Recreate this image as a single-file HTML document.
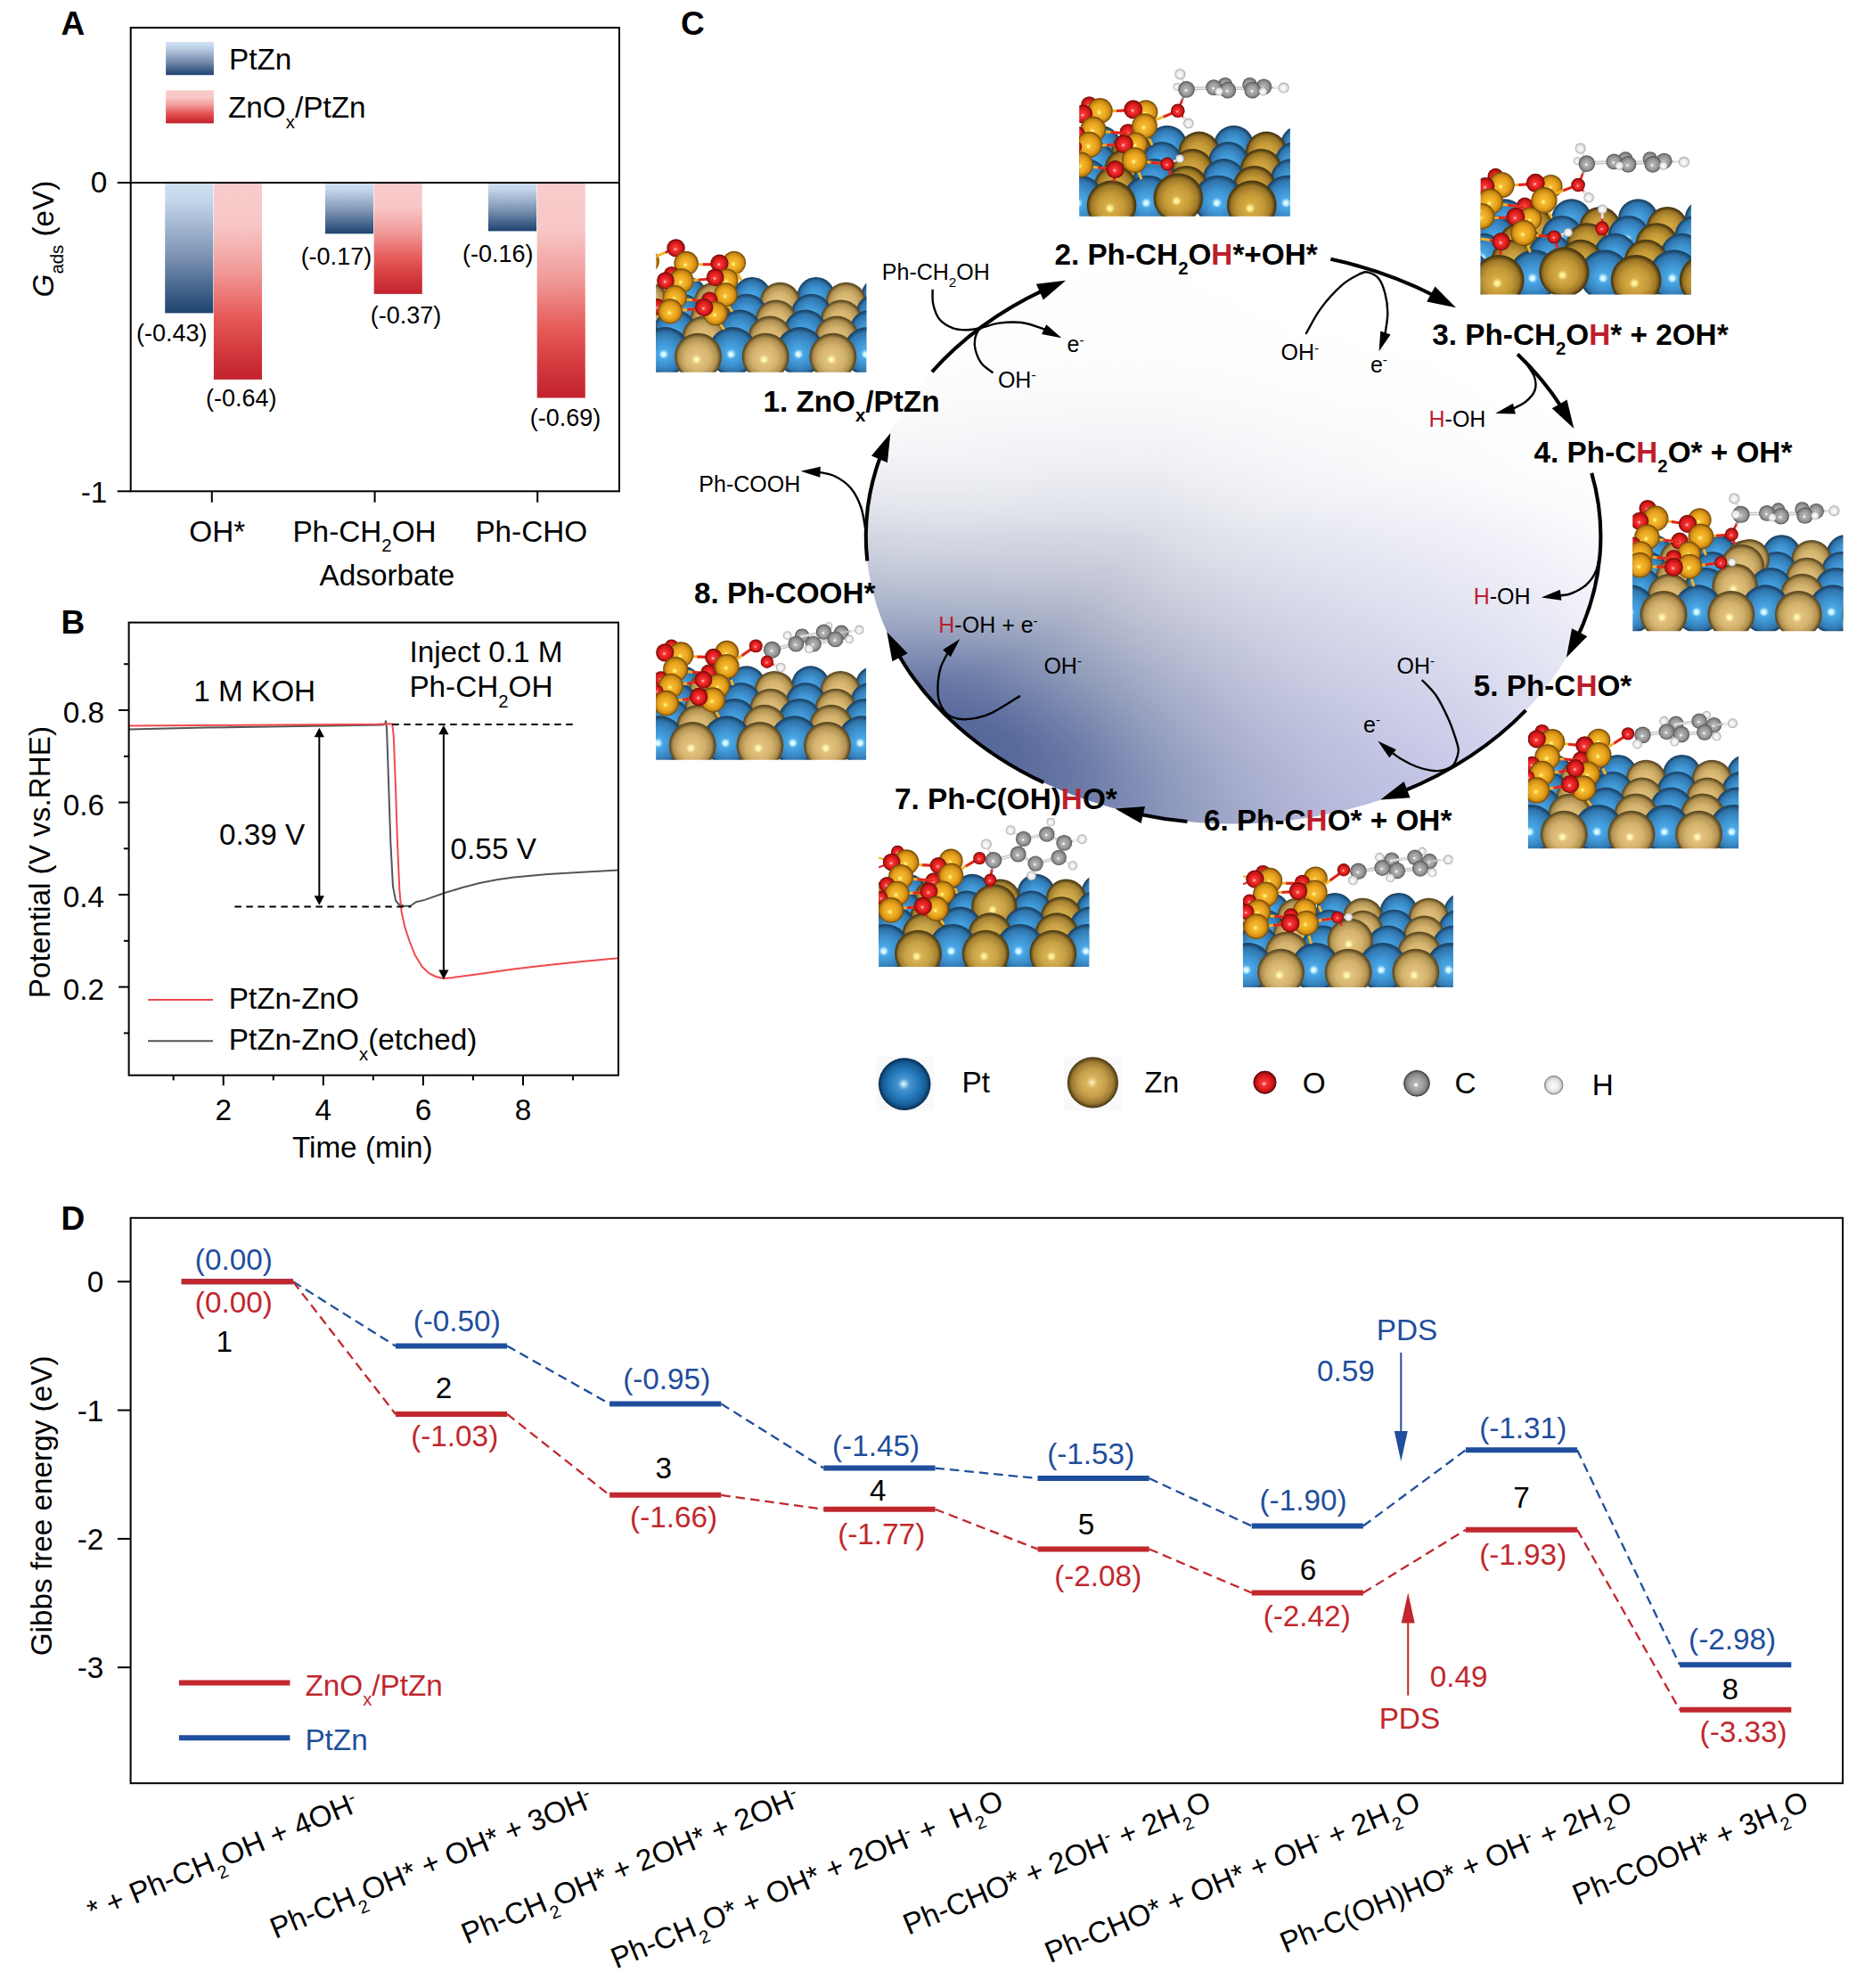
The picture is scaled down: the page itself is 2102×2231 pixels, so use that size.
<!DOCTYPE html>
<html lang="en"><head><meta charset="utf-8"><title>Figure</title>
<style>
html,body{margin:0;padding:0;background:#fff;}
body{width:2102px;height:2231px;overflow:hidden;}
svg{display:block;font-family:"Liberation Sans", sans-serif;}
</style></head><body>
<svg width="2102" height="2231" viewBox="0 0 2102 2231">
<defs>
<linearGradient id="gBlue" x1="0" y1="0" x2="0" y2="1">
<stop offset="0" stop-color="#cfe0f2"/><stop offset="0.12" stop-color="#c6d8ec"/>
<stop offset="0.55" stop-color="#7f95b5"/><stop offset="1" stop-color="#1d436f"/></linearGradient>
<linearGradient id="gRed" x1="0" y1="0" x2="0" y2="1">
<stop offset="0" stop-color="#f9cccc"/><stop offset="0.22" stop-color="#f8c6c6"/>
<stop offset="0.45" stop-color="#f09a98"/><stop offset="0.68" stop-color="#e65a58"/>
<stop offset="0.85" stop-color="#d33a3e"/><stop offset="1" stop-color="#c2222e"/></linearGradient>
<clipPath id="clipB"><rect x="144.6" y="698.6" width="549.4" height="508.1"/></clipPath>
<radialGradient id="gEll1" gradientUnits="userSpaceOnUse" cx="0" cy="0" r="3.0" gradientTransform="translate(1098 833) rotate(25) scale(480 215)">
<stop offset="0.0000" stop-color="#56699b"/><stop offset="0.0333" stop-color="#586a9c"/><stop offset="0.0667" stop-color="#6373a2"/><stop offset="0.1000" stop-color="#6f7ea9"/><stop offset="0.1333" stop-color="#7c89b0"/><stop offset="0.1833" stop-color="#8f9bb9"/><stop offset="0.2333" stop-color="#a1aac3"/><stop offset="0.2833" stop-color="#b1b7cc"/><stop offset="0.3333" stop-color="#bfc3d4"/><stop offset="0.4000" stop-color="#ced2de"/><stop offset="0.4667" stop-color="#dbdde7"/><stop offset="0.5667" stop-color="#e8eaf0"/><stop offset="0.6667" stop-color="#f1f2f6"/><stop offset="0.8000" stop-color="#f8f9fb"/><stop offset="1.0000" stop-color="#ffffff"/></radialGradient>
<radialGradient id="gEll4" gradientUnits="userSpaceOnUse" cx="1590" cy="910" r="380">
<stop offset="0" stop-color="#b0b0ea" stop-opacity="0.5"/><stop offset="0.5" stop-color="#b3b3ea" stop-opacity="0.25"/><stop offset="1" stop-color="#b3b3ea" stop-opacity="0"/></radialGradient>
<linearGradient id="gEll5" gradientUnits="userSpaceOnUse" x1="0" y1="380" x2="0" y2="600">
<stop offset="0" stop-color="#fff" stop-opacity="0.85"/><stop offset="0.5" stop-color="#fff" stop-opacity="0.35"/><stop offset="1" stop-color="#fff" stop-opacity="0"/></linearGradient>
<radialGradient id="gEll3" gradientUnits="userSpaceOnUse" cx="990" cy="440" r="330">
<stop offset="0" stop-color="#fff" stop-opacity="0.8"/><stop offset="0.55" stop-color="#fff" stop-opacity="0.4"/><stop offset="1" stop-color="#fff" stop-opacity="0"/></radialGradient>
<radialGradient id="sPt" cx="0.5" cy="0.5" r="0.5" fx="0.46" fy="0.57">
<stop offset="0" stop-color="#d9fbff"/><stop offset="0.07" stop-color="#d9fbff"/><stop offset="0.2" stop-color="#4aa7e6"/>
<stop offset="0.55" stop-color="#3b8ecb"/><stop offset="0.82" stop-color="#2f74ab"/><stop offset="0.96" stop-color="#1b4468"/>
<stop offset="1" stop-color="#1b4468"/></radialGradient>
<radialGradient id="sZn" cx="0.5" cy="0.5" r="0.5" fx="0.46" fy="0.57">
<stop offset="0" stop-color="#fff7b5"/><stop offset="0.07" stop-color="#fff7b5"/><stop offset="0.2" stop-color="#e2c27c"/>
<stop offset="0.55" stop-color="#d3b26d"/><stop offset="0.82" stop-color="#b0904f"/><stop offset="0.96" stop-color="#5d4a22"/>
<stop offset="1" stop-color="#5d4a22"/></radialGradient>
<radialGradient id="sZd" cx="0.5" cy="0.5" r="0.5" fx="0.46" fy="0.57">
<stop offset="0" stop-color="#fff39a"/><stop offset="0.07" stop-color="#fff39a"/><stop offset="0.2" stop-color="#d6ac45"/>
<stop offset="0.55" stop-color="#c29736"/><stop offset="0.82" stop-color="#9c7626"/><stop offset="0.96" stop-color="#4a3810"/>
<stop offset="1" stop-color="#4a3810"/></radialGradient>
<radialGradient id="sZm" cx="0.5" cy="0.5" r="0.5" fx="0.46" fy="0.57">
<stop offset="0" stop-color="#fff29a"/><stop offset="0.07" stop-color="#fff29a"/><stop offset="0.2" stop-color="#d8b255"/>
<stop offset="0.55" stop-color="#c6a044"/><stop offset="0.82" stop-color="#a38032"/><stop offset="0.96" stop-color="#503e14"/>
<stop offset="1" stop-color="#503e14"/></radialGradient>
<radialGradient id="sZc" cx="0.5" cy="0.5" r="0.5" fx="0.46" fy="0.57">
<stop offset="0" stop-color="#fff07a"/><stop offset="0.07" stop-color="#fff07a"/><stop offset="0.2" stop-color="#f5b92f"/>
<stop offset="0.55" stop-color="#e9a61f"/><stop offset="0.82" stop-color="#c98612"/><stop offset="0.96" stop-color="#7a4f08"/>
<stop offset="1" stop-color="#7a4f08"/></radialGradient>
<radialGradient id="sO" cx="0.5" cy="0.5" r="0.5" fx="0.46" fy="0.57">
<stop offset="0" stop-color="#ffb0b0"/><stop offset="0.07" stop-color="#ffb0b0"/><stop offset="0.2" stop-color="#f53a3a"/>
<stop offset="0.55" stop-color="#e41f1f"/><stop offset="0.82" stop-color="#b81212"/><stop offset="0.96" stop-color="#6e0808"/>
<stop offset="1" stop-color="#6e0808"/></radialGradient>
<radialGradient id="sC" cx="0.5" cy="0.5" r="0.5" fx="0.46" fy="0.57">
<stop offset="0" stop-color="#f6f6f6"/><stop offset="0.07" stop-color="#f6f6f6"/><stop offset="0.2" stop-color="#b4b4b4"/>
<stop offset="0.55" stop-color="#9e9e9e"/><stop offset="0.82" stop-color="#828282"/><stop offset="0.96" stop-color="#545454"/>
<stop offset="1" stop-color="#545454"/></radialGradient>
<radialGradient id="sH" cx="0.5" cy="0.5" r="0.5" fx="0.46" fy="0.57">
<stop offset="0" stop-color="#ffffff"/><stop offset="0.07" stop-color="#ffffff"/><stop offset="0.2" stop-color="#f6f6f6"/>
<stop offset="0.55" stop-color="#ececec"/><stop offset="0.82" stop-color="#d2d2d2"/><stop offset="0.96" stop-color="#9a9a9a"/>
<stop offset="1" stop-color="#9a9a9a"/></radialGradient>
<clipPath id="mclip1"><rect x="108" y="-28" width="1580" height="1150"/></clipPath>
<clipPath id="mclip2"><rect x="75" y="72" width="1583" height="1150"/></clipPath>
<clipPath id="mclip3"><rect x="78" y="57" width="1580" height="1150"/></clipPath>
<clipPath id="mclip4"><rect x="82" y="-25" width="1580" height="1150"/></clipPath>
<clipPath id="mclip5"><rect x="100" y="2" width="1580" height="1150"/></clipPath>
<clipPath id="mclip6"><rect x="100" y="7" width="1578" height="1150"/></clipPath>
<clipPath id="mclip7"><rect x="108" y="20" width="1580" height="1150"/></clipPath>
<clipPath id="mclip8"><rect x="108" y="5" width="1578" height="1150"/></clipPath>
<radialGradient id="lPt" cx="0.5" cy="0.5" r="0.5" fx="0.48" fy="0.5">
<stop offset="0" stop-color="#eafaff"/><stop offset="0.07" stop-color="#b5dcf3"/><stop offset="0.22" stop-color="#4795d0"/><stop offset="0.55" stop-color="#2579ba"/>
<stop offset="0.82" stop-color="#175d97"/><stop offset="0.95" stop-color="#0c3a66"/><stop offset="1" stop-color="#072a4c"/></radialGradient>
<radialGradient id="lZn" cx="0.5" cy="0.5" r="0.5" fx="0.48" fy="0.5">
<stop offset="0" stop-color="#fffbe0"/><stop offset="0.07" stop-color="#f4dc9a"/><stop offset="0.22" stop-color="#d9b45f"/><stop offset="0.55" stop-color="#c59e4a"/>
<stop offset="0.82" stop-color="#9c7a33"/><stop offset="0.95" stop-color="#5e4718"/><stop offset="1" stop-color="#3f2e0c"/></radialGradient>
</defs>
<rect x="0" y="0" width="2102" height="2231" fill="#fff"/>
<text x="68.50" y="39.20" font-size="37" font-weight="bold" xml:space="preserve">A</text>
<rect x="186.10" y="47.10" width="53.80" height="37.10" fill="url(#gBlue)"/>
<rect x="186.10" y="101.30" width="53.80" height="37.10" fill="url(#gRed)"/>
<text x="257.00" y="77.80" font-size="33.3" xml:space="preserve">PtZn</text>
<text x="256.00" y="132.20" font-size="33.3" xml:space="preserve">ZnO<tspan dy="11.32" font-size="20.31">x</tspan><tspan dy="-11.32">/PtZn</tspan></text>
<rect x="185.20" y="204.90" width="54.10" height="146.50" fill="url(#gBlue)"/>
<rect x="239.90" y="204.90" width="54.10" height="221.00" fill="url(#gRed)"/>
<rect x="365.00" y="204.90" width="54.10" height="57.40" fill="url(#gBlue)"/>
<rect x="419.70" y="204.90" width="54.10" height="125.00" fill="url(#gRed)"/>
<rect x="548.00" y="204.90" width="54.10" height="54.50" fill="url(#gBlue)"/>
<rect x="602.70" y="204.90" width="54.10" height="241.60" fill="url(#gRed)"/>
<text x="192.80" y="382.50" font-size="27" text-anchor="middle" xml:space="preserve">(-0.43)</text>
<text x="270.70" y="455.60" font-size="27" text-anchor="middle" xml:space="preserve">(-0.64)</text>
<text x="377.40" y="297.20" font-size="27" text-anchor="middle" xml:space="preserve">(-0.17)</text>
<text x="455.60" y="363.30" font-size="27" text-anchor="middle" xml:space="preserve">(-0.37)</text>
<text x="558.80" y="294.10" font-size="27" text-anchor="middle" xml:space="preserve">(-0.16)</text>
<text x="634.60" y="477.90" font-size="27" text-anchor="middle" xml:space="preserve">(-0.69)</text>
<rect x="146.70" y="31.10" width="548.30" height="520.20" fill="none" stroke="#000" stroke-width="2"/>
<line x1="131.70" y1="204.90" x2="695.00" y2="204.90" stroke="#000" stroke-width="2"/>
<line x1="131.70" y1="551.30" x2="146.70" y2="551.30" stroke="#000" stroke-width="2"/>
<line x1="237.80" y1="551.30" x2="237.80" y2="563.80" stroke="#000" stroke-width="2"/>
<line x1="420.60" y1="551.30" x2="420.60" y2="563.80" stroke="#000" stroke-width="2"/>
<line x1="603.20" y1="551.30" x2="603.20" y2="563.80" stroke="#000" stroke-width="2"/>
<text x="120.30" y="215.80" font-size="33.3" text-anchor="end" xml:space="preserve">0</text>
<text x="120.30" y="563.90" font-size="33.3" text-anchor="end" xml:space="preserve">-1</text>
<text x="243.70" y="607.50" font-size="33.3" text-anchor="middle" xml:space="preserve">OH*</text>
<text x="409.00" y="607.50" font-size="33.3" text-anchor="middle" xml:space="preserve">Ph-CH<tspan dy="11.32" font-size="20.31">2</tspan><tspan dy="-11.32">OH</tspan></text>
<text x="596.30" y="607.50" font-size="33.3" text-anchor="middle" xml:space="preserve">Ph-CHO</text>
<text x="434.40" y="656.70" font-size="33.3" text-anchor="middle" xml:space="preserve">Adsorbate</text>
<text x="59.60" y="268.00" font-size="33.3" text-anchor="middle" transform="rotate(-90 59.60 268.00)" xml:space="preserve"><tspan font-style="italic">G</tspan><tspan dy="11.32" font-size="20.31">ads</tspan><tspan dy="-11.32"> (eV)</tspan></text>
<text x="68.50" y="710.70" font-size="37" font-weight="bold" xml:space="preserve">B</text>
<g clip-path="url(#clipB)">
<path d="M144.56,818.40 L230.68,816.48 L384.47,814.36 L429.83,813.40 L432.14,812.63 L432.91,809.17 L434.06,817.63 L435.99,875.30 L438.29,944.51 L440.98,994.49 L444.06,1010.63 L447.90,1015.25 L453.67,1016.79 L460.59,1016.79 L463.67,1014.48 L467.13,1012.17 L476.74,1009.87 L499.81,1001.79 L519.03,996.02 L538.25,991.03 L557.48,987.18 L576.70,984.49 L615.15,981.03 L653.59,978.72 L693.96,976.42" stroke="#555" stroke-width="2" fill="none" stroke-linejoin="round"/>
<path d="M144.56,814.56 L269.13,813.79 L422.91,812.83 L437.52,812.25 L440.22,812.63 L441.75,825.32 L443.68,875.30 L445.98,944.51 L448.29,998.33 L450.60,1023.32 L454.44,1040.62 L459.44,1056.00 L465.97,1072.15 L473.66,1084.84 L481.35,1092.14 L489.04,1095.99 L497.89,1097.91 L507.50,1097.14 L538.25,1092.91 L576.70,1087.53 L615.15,1082.91 L653.59,1079.07 L693.96,1075.22" stroke="#f0494e" stroke-width="2" fill="none" stroke-linejoin="round"/>
</g>
<line x1="440.22" y1="813.02" x2="645.91" y2="813.02" stroke="#000" stroke-width="2" stroke-dasharray="7.5 5.5"/>
<line x1="263.36" y1="1017.55" x2="461.36" y2="1017.55" stroke="#000" stroke-width="2" stroke-dasharray="7.5 5.5"/>
<line x1="358.32" y1="825.26" x2="358.32" y2="1007.23" stroke="#000" stroke-width="2"/>
<polygon points="358.32,816.86 352.72,827.36 363.92,827.36" fill="#000"/>
<polygon points="358.32,1015.63 352.72,1005.13 363.92,1005.13" fill="#000"/>
<line x1="497.89" y1="822.19" x2="497.89" y2="1090.66" stroke="#000" stroke-width="2"/>
<polygon points="497.89,813.79 492.29,824.29 503.49,824.29" fill="#000"/>
<polygon points="497.89,1099.06 492.29,1088.56 503.49,1088.56" fill="#000"/>
<rect x="144.60" y="698.60" width="549.40" height="508.10" fill="none" stroke="#000" stroke-width="2"/>
<line x1="138.90" y1="745.23" x2="144.60" y2="745.23" stroke="#000" stroke-width="2"/>
<line x1="133.10" y1="797.00" x2="144.60" y2="797.00" stroke="#000" stroke-width="2"/>
<text x="117.00" y="811.30" font-size="33.3" text-anchor="end" xml:space="preserve">0.8</text>
<line x1="138.90" y1="848.77" x2="144.60" y2="848.77" stroke="#000" stroke-width="2"/>
<line x1="133.10" y1="900.54" x2="144.60" y2="900.54" stroke="#000" stroke-width="2"/>
<text x="117.00" y="914.84" font-size="33.3" text-anchor="end" xml:space="preserve">0.6</text>
<line x1="138.90" y1="952.31" x2="144.60" y2="952.31" stroke="#000" stroke-width="2"/>
<line x1="133.10" y1="1004.08" x2="144.60" y2="1004.08" stroke="#000" stroke-width="2"/>
<text x="117.00" y="1018.38" font-size="33.3" text-anchor="end" xml:space="preserve">0.4</text>
<line x1="138.90" y1="1055.85" x2="144.60" y2="1055.85" stroke="#000" stroke-width="2"/>
<line x1="133.10" y1="1107.62" x2="144.60" y2="1107.62" stroke="#000" stroke-width="2"/>
<text x="117.00" y="1121.92" font-size="33.3" text-anchor="end" xml:space="preserve">0.2</text>
<line x1="138.90" y1="1159.39" x2="144.60" y2="1159.39" stroke="#000" stroke-width="2"/>
<line x1="194.65" y1="1206.70" x2="194.65" y2="1212.40" stroke="#000" stroke-width="2"/>
<line x1="250.70" y1="1206.70" x2="250.70" y2="1218.20" stroke="#000" stroke-width="2"/>
<text x="250.70" y="1257.30" font-size="33.3" text-anchor="middle" xml:space="preserve">2</text>
<line x1="306.75" y1="1206.70" x2="306.75" y2="1212.40" stroke="#000" stroke-width="2"/>
<line x1="362.80" y1="1206.70" x2="362.80" y2="1218.20" stroke="#000" stroke-width="2"/>
<text x="362.80" y="1257.30" font-size="33.3" text-anchor="middle" xml:space="preserve">4</text>
<line x1="418.85" y1="1206.70" x2="418.85" y2="1212.40" stroke="#000" stroke-width="2"/>
<line x1="474.90" y1="1206.70" x2="474.90" y2="1218.20" stroke="#000" stroke-width="2"/>
<text x="474.90" y="1257.30" font-size="33.3" text-anchor="middle" xml:space="preserve">6</text>
<line x1="530.95" y1="1206.70" x2="530.95" y2="1212.40" stroke="#000" stroke-width="2"/>
<line x1="587.00" y1="1206.70" x2="587.00" y2="1218.20" stroke="#000" stroke-width="2"/>
<text x="587.00" y="1257.30" font-size="33.3" text-anchor="middle" xml:space="preserve">8</text>
<line x1="643.05" y1="1206.70" x2="643.05" y2="1212.40" stroke="#000" stroke-width="2"/>
<text x="406.80" y="1299.20" font-size="33.3" text-anchor="middle" xml:space="preserve">Time (min)</text>
<text x="55.70" y="967.60" font-size="33.3" text-anchor="middle" transform="rotate(-90 55.70 967.60)" xml:space="preserve">Potential (V vs.RHE)</text>
<text x="217.20" y="786.90" font-size="33.3" xml:space="preserve">1 M KOH</text>
<text x="459.40" y="742.70" font-size="33.3" xml:space="preserve">Inject 0.1 M</text>
<text x="459.40" y="782.30" font-size="33.3" xml:space="preserve">Ph-CH<tspan dy="11.32" font-size="20.31">2</tspan><tspan dy="-11.32">OH</tspan></text>
<text x="246.00" y="947.60" font-size="33.3" xml:space="preserve">0.39 V</text>
<text x="505.60" y="963.70" font-size="33.3" xml:space="preserve">0.55 V</text>
<line x1="166.00" y1="1122.00" x2="239.00" y2="1122.00" stroke="#f0494e" stroke-width="2"/>
<text x="256.80" y="1132.30" font-size="33.3" xml:space="preserve">PtZn-ZnO</text>
<line x1="166.00" y1="1168.30" x2="239.00" y2="1168.30" stroke="#555" stroke-width="2"/>
<text x="256.80" y="1178.30" font-size="33.3" xml:space="preserve">PtZn-ZnO<tspan dy="11.32" font-size="20.31">x</tspan><tspan dy="-11.32">(etched)</tspan></text>
<text x="764.00" y="38.60" font-size="37" font-weight="bold" xml:space="preserve">C</text>
<ellipse cx="1384.1" cy="601.9" rx="412.3" ry="322.6" fill="url(#gEll1)"/>
<ellipse cx="1384.1" cy="601.9" rx="412.3" ry="322.6" fill="url(#gEll4)"/>
<ellipse cx="1384.1" cy="601.9" rx="412.3" ry="322.6" fill="url(#gEll3)"/>
<ellipse cx="1384.1" cy="601.9" rx="412.3" ry="322.6" fill="url(#gEll5)"/>
<g transform="translate(720 250) scale(0.14950)"><g clip-path="url(#mclip1)">
<circle cx="-130" cy="550" r="142" fill="url(#sPt)"/>
<circle cx="350" cy="550" r="142" fill="url(#sPt)"/>
<circle cx="830" cy="550" r="142" fill="url(#sPt)"/>
<circle cx="1310" cy="550" r="142" fill="url(#sPt)"/>
<circle cx="1790" cy="550" r="142" fill="url(#sPt)"/>
<circle cx="50" cy="598" r="152" fill="url(#sZn)"/>
<circle cx="545" cy="598" r="152" fill="url(#sZn)"/>
<circle cx="1040" cy="598" r="152" fill="url(#sZn)"/>
<circle cx="1535" cy="598" r="152" fill="url(#sZn)"/>
<circle cx="-180" cy="685" r="152" fill="url(#sPt)"/>
<circle cx="305" cy="685" r="152" fill="url(#sPt)"/>
<circle cx="790" cy="685" r="152" fill="url(#sPt)"/>
<circle cx="1275" cy="685" r="152" fill="url(#sPt)"/>
<circle cx="1760" cy="685" r="152" fill="url(#sPt)"/>
<circle cx="30" cy="735" r="157" fill="url(#sZn)"/>
<circle cx="520" cy="735" r="157" fill="url(#sZn)"/>
<circle cx="1010" cy="735" r="157" fill="url(#sZn)"/>
<circle cx="1500" cy="735" r="157" fill="url(#sZn)"/>
<circle cx="-240" cy="815" r="162" fill="url(#sPt)"/>
<circle cx="250" cy="815" r="162" fill="url(#sPt)"/>
<circle cx="740" cy="815" r="162" fill="url(#sPt)"/>
<circle cx="1230" cy="815" r="162" fill="url(#sPt)"/>
<circle cx="1720" cy="815" r="162" fill="url(#sPt)"/>
<circle cx="-30" cy="865" r="166" fill="url(#sZn)"/>
<circle cx="470" cy="865" r="166" fill="url(#sZn)"/>
<circle cx="965" cy="865" r="166" fill="url(#sZn)"/>
<circle cx="1465" cy="865" r="166" fill="url(#sZn)"/>
<circle cx="-328" cy="965" r="182" fill="url(#sPt)"/>
<circle cx="178" cy="965" r="182" fill="url(#sPt)"/>
<circle cx="684" cy="965" r="182" fill="url(#sPt)"/>
<circle cx="1190" cy="965" r="182" fill="url(#sPt)"/>
<circle cx="1696" cy="965" r="182" fill="url(#sPt)"/>
<circle cx="-81" cy="1005" r="177" fill="url(#sZn)"/>
<circle cx="425" cy="1005" r="177" fill="url(#sZn)"/>
<circle cx="931" cy="1005" r="177" fill="url(#sZn)"/>
<circle cx="1437" cy="1005" r="177" fill="url(#sZn)"/>
<circle cx="1943" cy="1005" r="177" fill="url(#sZn)"/>
<circle cx="48" cy="290" r="85" fill="url(#sZc)"/>
<line x1="100" y1="256" x2="258" y2="190" stroke="#f0b429" stroke-width="20"/>
<line x1="179.0" y1="223.0" x2="258" y2="190" stroke="#e02424" stroke-width="20"/>
<circle cx="258" cy="190" r="68" fill="url(#sO)"/>
<circle cx="695" cy="300" r="88" fill="url(#sZc)"/>
<line x1="335" y1="312" x2="585" y2="312" stroke="#f0b429" stroke-width="20"/>
<line x1="460.0" y1="312.0" x2="585" y2="312" stroke="#e02424" stroke-width="20"/>
<circle cx="335" cy="305" r="92" fill="url(#sZc)"/>
<circle cx="585" cy="305" r="68" fill="url(#sO)"/>
<line x1="720" y1="380" x2="750" y2="435" stroke="#f0b429" stroke-width="20"/>
<circle cx="640" cy="430" r="86" fill="url(#sZc)"/>
<circle cx="225" cy="385" r="58" fill="url(#sO)"/>
<line x1="300" y1="440" x2="553" y2="418" stroke="#f0b429" stroke-width="20"/>
<line x1="426.5" y1="429.0" x2="553" y2="418" stroke="#e02424" stroke-width="20"/>
<circle cx="300" cy="435" r="92" fill="url(#sZc)"/>
<circle cx="553" cy="410" r="66" fill="url(#sO)"/>
<circle cx="180" cy="435" r="66" fill="url(#sO)"/>
<line x1="650" y1="620" x2="682" y2="668" stroke="#f0b429" stroke-width="20"/>
<circle cx="632" cy="540" r="90" fill="url(#sZc)"/>
<line x1="250" y1="570" x2="510" y2="590" stroke="#f0b429" stroke-width="20"/>
<line x1="380.0" y1="580.0" x2="510" y2="590" stroke="#e02424" stroke-width="20"/>
<circle cx="250" cy="560" r="92" fill="url(#sZc)"/>
<circle cx="510" cy="580" r="62" fill="url(#sO)"/>
<line x1="590" y1="760" x2="620" y2="802" stroke="#f0b429" stroke-width="20"/>
<circle cx="555" cy="680" r="92" fill="url(#sZc)"/>
<circle cx="120" cy="630" r="62" fill="url(#sO)"/>
<line x1="215" y1="662" x2="470" y2="642" stroke="#f0b429" stroke-width="20"/>
<line x1="342.5" y1="652.0" x2="470" y2="642" stroke="#e02424" stroke-width="20"/>
<circle cx="215" cy="665" r="94" fill="url(#sZc)"/>
<circle cx="470" cy="635" r="68" fill="url(#sO)"/>
</g></g>
<g transform="translate(1200 60) scale(0.14950)"><g clip-path="url(#mclip2)">
<circle cx="-260" cy="690" r="150" fill="url(#sPt)"/>
<circle cx="235" cy="690" r="150" fill="url(#sPt)"/>
<circle cx="735" cy="690" r="150" fill="url(#sPt)"/>
<circle cx="1235" cy="690" r="150" fill="url(#sPt)"/>
<circle cx="1735" cy="690" r="150" fill="url(#sPt)"/>
<circle cx="-30" cy="742" r="156" fill="url(#sZd)"/>
<circle cx="470" cy="742" r="156" fill="url(#sZd)"/>
<circle cx="975" cy="742" r="156" fill="url(#sZd)"/>
<circle cx="1480" cy="742" r="156" fill="url(#sZd)"/>
<circle cx="-300" cy="815" r="152" fill="url(#sPt)"/>
<circle cx="195" cy="815" r="152" fill="url(#sPt)"/>
<circle cx="695" cy="815" r="152" fill="url(#sPt)"/>
<circle cx="1195" cy="815" r="152" fill="url(#sPt)"/>
<circle cx="1695" cy="815" r="152" fill="url(#sPt)"/>
<circle cx="-90" cy="872" r="156" fill="url(#sZd)"/>
<circle cx="420" cy="872" r="156" fill="url(#sZd)"/>
<circle cx="925" cy="872" r="156" fill="url(#sZd)"/>
<circle cx="1440" cy="872" r="156" fill="url(#sZd)"/>
<circle cx="-380" cy="950" r="160" fill="url(#sPt)"/>
<circle cx="130" cy="950" r="160" fill="url(#sPt)"/>
<circle cx="640" cy="950" r="160" fill="url(#sPt)"/>
<circle cx="1160" cy="950" r="160" fill="url(#sPt)"/>
<circle cx="1670" cy="950" r="160" fill="url(#sPt)"/>
<circle cx="-170" cy="1005" r="162" fill="url(#sZd)"/>
<circle cx="345" cy="1005" r="162" fill="url(#sZd)"/>
<circle cx="880" cy="1005" r="162" fill="url(#sZd)"/>
<circle cx="1390" cy="1005" r="162" fill="url(#sZd)"/>
<circle cx="75" cy="1100" r="186" fill="url(#sPt)"/>
<circle cx="590" cy="1100" r="186" fill="url(#sPt)"/>
<circle cx="1120" cy="1100" r="186" fill="url(#sPt)"/>
<circle cx="1640" cy="1100" r="186" fill="url(#sPt)"/>
<circle cx="818" cy="1085" r="186" fill="url(#sZd)"/>
<circle cx="-200" cy="1140" r="186" fill="url(#sZd)"/>
<circle cx="318" cy="1140" r="186" fill="url(#sZd)"/>
<circle cx="1370" cy="1140" r="186" fill="url(#sZd)"/>
<circle cx="1900" cy="1140" r="186" fill="url(#sZd)"/>
<circle cx="150" cy="385" r="62" fill="url(#sO)"/>
<circle cx="575" cy="440" r="90" fill="url(#sZc)"/>
<line x1="230" y1="437" x2="480" y2="425" stroke="#f0b429" stroke-width="20"/>
<line x1="355.0" y1="431.0" x2="480" y2="425" stroke="#e02424" stroke-width="20"/>
<circle cx="230" cy="430" r="96" fill="url(#sZc)"/>
<circle cx="480" cy="420" r="70" fill="url(#sO)"/>
<circle cx="105" cy="455" r="70" fill="url(#sO)"/>
<line x1="600" y1="640" x2="622" y2="688" stroke="#f0b429" stroke-width="20"/>
<line x1="600" y1="520" x2="815" y2="430" stroke="#f0b429" stroke-width="20"/>
<line x1="707.5" y1="475.0" x2="815" y2="430" stroke="#e02424" stroke-width="20"/>
<circle cx="440" cy="590" r="62" fill="url(#sO)"/>
<circle cx="565" cy="545" r="96" fill="url(#sZc)"/>
<line x1="180" y1="578" x2="440" y2="602" stroke="#f0b429" stroke-width="20"/>
<line x1="310.0" y1="590.0" x2="440" y2="602" stroke="#e02424" stroke-width="20"/>
<circle cx="180" cy="570" r="96" fill="url(#sZc)"/>
<circle cx="500" cy="680" r="88" fill="url(#sZc)"/>
<circle cx="65" cy="600" r="52" fill="url(#sO)"/>
<line x1="150" y1="690" x2="410" y2="686" stroke="#f0b429" stroke-width="20"/>
<line x1="280.0" y1="688.0" x2="410" y2="686" stroke="#e02424" stroke-width="20"/>
<circle cx="150" cy="685" r="98" fill="url(#sZc)"/>
<circle cx="410" cy="680" r="70" fill="url(#sO)"/>
<circle cx="55" cy="700" r="40" fill="url(#sO)"/>
<line x1="520" y1="890" x2="542" y2="945" stroke="#f0b429" stroke-width="20"/>
<line x1="490" y1="805" x2="735" y2="830" stroke="#f0b429" stroke-width="20"/>
<line x1="612.5" y1="817.5" x2="735" y2="830" stroke="#e02424" stroke-width="20"/>
<line x1="735" y1="830" x2="762" y2="910" stroke="#e02424" stroke-width="20"/>
<line x1="340" y1="880" x2="336" y2="965" stroke="#e02424" stroke-width="20"/>
<circle cx="490" cy="800" r="96" fill="url(#sZc)"/>
<line x1="85" y1="842" x2="345" y2="872" stroke="#f0b429" stroke-width="20"/>
<line x1="215.0" y1="857.0" x2="345" y2="872" stroke="#e02424" stroke-width="20"/>
<circle cx="85" cy="835" r="96" fill="url(#sZc)"/>
<circle cx="345" cy="870" r="68" fill="url(#sO)"/>
<line x1="735" y1="830" x2="830" y2="790" stroke="#e02424" stroke-width="16"/>
<line x1="782.5" y1="810.0" x2="830" y2="790" stroke="#ededed" stroke-width="16"/>
<circle cx="735" cy="830" r="50" fill="url(#sO)"/>
<circle cx="830" cy="790" r="33" fill="url(#sH)"/>
<circle cx="810" cy="250" r="30" fill="url(#sH)"/>
<line x1="815" y1="430" x2="895" y2="525" stroke="#e02424" stroke-width="16"/>
<line x1="855.0" y1="477.5" x2="895" y2="525" stroke="#ededed" stroke-width="16"/>
<line x1="815" y1="430" x2="880" y2="270" stroke="#e02424" stroke-width="18"/>
<line x1="847.5" y1="350.0" x2="880" y2="270" stroke="#9a9a9a" stroke-width="18"/>
<circle cx="815" cy="430" r="52" fill="url(#sO)"/>
<circle cx="895" cy="525" r="38" fill="url(#sH)"/>
<line x1="880" y1="270" x2="832" y2="155" stroke="#9a9a9a" stroke-width="16"/>
<line x1="856.0" y1="212.5" x2="832" y2="155" stroke="#ededed" stroke-width="16"/>
<line x1="880" y1="266" x2="1085" y2="258" stroke="#c4c4c4" stroke-width="26"/>
<line x1="880" y1="266" x2="1085" y2="258" stroke="#f4f4f4" stroke-width="7.8"/>
<circle cx="880" cy="270" r="62" fill="url(#sC)"/>
<circle cx="832" cy="155" r="40" fill="url(#sH)"/>
<circle cx="1170" cy="235" r="55" fill="url(#sC)"/>
<circle cx="1085" cy="255" r="60" fill="url(#sC)"/>
<line x1="1190" y1="262" x2="1375" y2="262" stroke="#c4c4c4" stroke-width="26"/>
<line x1="1190" y1="262" x2="1375" y2="262" stroke="#f4f4f4" stroke-width="7.8"/>
<circle cx="1355" cy="235" r="55" fill="url(#sC)"/>
<circle cx="1190" cy="275" r="62" fill="url(#sC)"/>
<circle cx="1125" cy="285" r="32" fill="url(#sH)"/>
<line x1="1460" y1="255" x2="1610" y2="258" stroke="#bdbdbd" stroke-width="16"/>
<line x1="1535.0" y1="256.5" x2="1610" y2="258" stroke="#ededed" stroke-width="16"/>
<circle cx="1460" cy="250" r="60" fill="url(#sC)"/>
<circle cx="1375" cy="275" r="62" fill="url(#sC)"/>
<circle cx="1455" cy="285" r="32" fill="url(#sH)"/>
<circle cx="1610" cy="258" r="40" fill="url(#sH)"/>
</g></g>
<g transform="translate(1650 150) scale(0.14950)"><g clip-path="url(#mclip3)">
<circle cx="-240" cy="640" r="150" fill="url(#sPt)"/>
<circle cx="260" cy="640" r="150" fill="url(#sPt)"/>
<circle cx="760" cy="640" r="150" fill="url(#sPt)"/>
<circle cx="1260" cy="640" r="150" fill="url(#sPt)"/>
<circle cx="1760" cy="640" r="150" fill="url(#sPt)"/>
<circle cx="-30" cy="705" r="156" fill="url(#sZd)"/>
<circle cx="470" cy="705" r="156" fill="url(#sZd)"/>
<circle cx="975" cy="705" r="156" fill="url(#sZd)"/>
<circle cx="1480" cy="705" r="156" fill="url(#sZd)"/>
<circle cx="-310" cy="770" r="155" fill="url(#sPt)"/>
<circle cx="190" cy="770" r="155" fill="url(#sPt)"/>
<circle cx="690" cy="770" r="155" fill="url(#sPt)"/>
<circle cx="1190" cy="770" r="155" fill="url(#sPt)"/>
<circle cx="1690" cy="770" r="155" fill="url(#sPt)"/>
<circle cx="-140" cy="828" r="158" fill="url(#sZd)"/>
<circle cx="370" cy="828" r="158" fill="url(#sZd)"/>
<circle cx="880" cy="828" r="158" fill="url(#sZd)"/>
<circle cx="1400" cy="828" r="158" fill="url(#sZd)"/>
<circle cx="-400" cy="910" r="162" fill="url(#sPt)"/>
<circle cx="100" cy="910" r="162" fill="url(#sPt)"/>
<circle cx="600" cy="910" r="162" fill="url(#sPt)"/>
<circle cx="1090" cy="910" r="162" fill="url(#sPt)"/>
<circle cx="1590" cy="910" r="162" fill="url(#sPt)"/>
<circle cx="-200" cy="960" r="165" fill="url(#sZd)"/>
<circle cx="320" cy="960" r="165" fill="url(#sZd)"/>
<circle cx="830" cy="960" r="165" fill="url(#sZd)"/>
<circle cx="1320" cy="960" r="165" fill="url(#sZd)"/>
<circle cx="-40" cy="1062" r="190" fill="url(#sPt)"/>
<circle cx="480" cy="1062" r="190" fill="url(#sPt)"/>
<circle cx="1010" cy="1062" r="190" fill="url(#sPt)"/>
<circle cx="1530" cy="1062" r="190" fill="url(#sPt)"/>
<circle cx="705" cy="1040" r="188" fill="url(#sZd)"/>
<circle cx="-300" cy="1100" r="190" fill="url(#sZd)"/>
<circle cx="215" cy="1100" r="190" fill="url(#sZd)"/>
<circle cx="1245" cy="1100" r="190" fill="url(#sZd)"/>
<circle cx="1760" cy="1100" r="190" fill="url(#sZd)"/>
<circle cx="190" cy="320" r="60" fill="url(#sO)"/>
<circle cx="605" cy="395" r="88" fill="url(#sZc)"/>
<line x1="235" y1="392" x2="490" y2="376" stroke="#f0b429" stroke-width="20"/>
<line x1="362.5" y1="384.0" x2="490" y2="376" stroke="#e02424" stroke-width="20"/>
<circle cx="235" cy="385" r="98" fill="url(#sZc)"/>
<circle cx="490" cy="370" r="70" fill="url(#sO)"/>
<circle cx="115" cy="395" r="68" fill="url(#sO)"/>
<line x1="590" y1="590" x2="612" y2="635" stroke="#f0b429" stroke-width="20"/>
<line x1="590" y1="470" x2="805" y2="385" stroke="#f0b429" stroke-width="20"/>
<line x1="697.5" y1="427.5" x2="805" y2="385" stroke="#e02424" stroke-width="20"/>
<circle cx="410" cy="540" r="62" fill="url(#sO)"/>
<circle cx="555" cy="500" r="98" fill="url(#sZc)"/>
<line x1="150" y1="520" x2="410" y2="552" stroke="#f0b429" stroke-width="20"/>
<line x1="280.0" y1="536.0" x2="410" y2="552" stroke="#e02424" stroke-width="20"/>
<circle cx="150" cy="510" r="98" fill="url(#sZc)"/>
<circle cx="450" cy="640" r="88" fill="url(#sZc)"/>
<line x1="85" y1="630" x2="340" y2="630" stroke="#f0b429" stroke-width="20"/>
<line x1="212.5" y1="630.0" x2="340" y2="630" stroke="#e02424" stroke-width="20"/>
<circle cx="85" cy="620" r="98" fill="url(#sZc)"/>
<circle cx="340" cy="625" r="70" fill="url(#sO)"/>
<line x1="430" y1="840" x2="452" y2="890" stroke="#f0b429" stroke-width="20"/>
<line x1="400" y1="752" x2="630" y2="777" stroke="#f0b429" stroke-width="20"/>
<line x1="515.0" y1="764.5" x2="630" y2="777" stroke="#e02424" stroke-width="20"/>
<line x1="630" y1="775" x2="657" y2="862" stroke="#e02424" stroke-width="20"/>
<line x1="230" y1="815" x2="228" y2="908" stroke="#e02424" stroke-width="20"/>
<circle cx="400" cy="745" r="98" fill="url(#sZc)"/>
<line x1="60" y1="785" x2="232" y2="812" stroke="#f0b429" stroke-width="20"/>
<line x1="146.0" y1="798.5" x2="232" y2="812" stroke="#e02424" stroke-width="20"/>
<circle cx="232" cy="810" r="68" fill="url(#sO)"/>
<line x1="630" y1="775" x2="735" y2="742" stroke="#e02424" stroke-width="16"/>
<line x1="682.5" y1="758.5" x2="735" y2="742" stroke="#ededed" stroke-width="16"/>
<circle cx="630" cy="775" r="50" fill="url(#sO)"/>
<circle cx="735" cy="742" r="34" fill="url(#sH)"/>
<line x1="990" y1="710" x2="960" y2="765" stroke="#e02424" stroke-width="14"/>
<line x1="990" y1="710" x2="1018" y2="765" stroke="#e02424" stroke-width="14"/>
<line x1="990" y1="710" x2="992" y2="568" stroke="#e02424" stroke-width="18"/>
<line x1="991.0" y1="639.0" x2="992" y2="568" stroke="#ededed" stroke-width="18"/>
<circle cx="990" cy="710" r="52" fill="url(#sO)"/>
<circle cx="992" cy="568" r="36" fill="url(#sH)"/>
<circle cx="805" cy="205" r="30" fill="url(#sH)"/>
<line x1="810" y1="385" x2="890" y2="480" stroke="#e02424" stroke-width="16"/>
<line x1="850.0" y1="432.5" x2="890" y2="480" stroke="#ededed" stroke-width="16"/>
<line x1="810" y1="385" x2="875" y2="225" stroke="#e02424" stroke-width="18"/>
<line x1="842.5" y1="305.0" x2="875" y2="225" stroke="#9a9a9a" stroke-width="18"/>
<circle cx="810" cy="385" r="52" fill="url(#sO)"/>
<circle cx="890" cy="480" r="38" fill="url(#sH)"/>
<line x1="875" y1="225" x2="827" y2="110" stroke="#9a9a9a" stroke-width="16"/>
<line x1="851.0" y1="167.5" x2="827" y2="110" stroke="#ededed" stroke-width="16"/>
<line x1="875" y1="221" x2="1080" y2="213" stroke="#c4c4c4" stroke-width="26"/>
<line x1="875" y1="221" x2="1080" y2="213" stroke="#f4f4f4" stroke-width="7.8"/>
<circle cx="875" cy="225" r="62" fill="url(#sC)"/>
<circle cx="827" cy="110" r="40" fill="url(#sH)"/>
<circle cx="1165" cy="190" r="55" fill="url(#sC)"/>
<circle cx="1080" cy="210" r="60" fill="url(#sC)"/>
<line x1="1185" y1="217" x2="1370" y2="217" stroke="#c4c4c4" stroke-width="26"/>
<line x1="1185" y1="217" x2="1370" y2="217" stroke="#f4f4f4" stroke-width="7.8"/>
<circle cx="1350" cy="190" r="55" fill="url(#sC)"/>
<circle cx="1185" cy="230" r="62" fill="url(#sC)"/>
<circle cx="1120" cy="240" r="32" fill="url(#sH)"/>
<line x1="1455" y1="210" x2="1605" y2="213" stroke="#bdbdbd" stroke-width="16"/>
<line x1="1530.0" y1="211.5" x2="1605" y2="213" stroke="#ededed" stroke-width="16"/>
<circle cx="1455" cy="205" r="60" fill="url(#sC)"/>
<circle cx="1370" cy="230" r="62" fill="url(#sC)"/>
<circle cx="1450" cy="240" r="32" fill="url(#sH)"/>
<circle cx="1605" cy="213" r="40" fill="url(#sH)"/>
</g></g>
<g transform="translate(1820 540) scale(0.14950)"><g clip-path="url(#mclip4)">
<circle cx="-240" cy="545" r="142" fill="url(#sPt)"/>
<circle cx="240" cy="545" r="142" fill="url(#sPt)"/>
<circle cx="720" cy="545" r="142" fill="url(#sPt)"/>
<circle cx="1200" cy="545" r="142" fill="url(#sPt)"/>
<circle cx="1680" cy="545" r="142" fill="url(#sPt)"/>
<circle cx="-60" cy="593" r="152" fill="url(#sZn)"/>
<circle cx="435" cy="593" r="152" fill="url(#sZn)"/>
<circle cx="930" cy="593" r="152" fill="url(#sZn)"/>
<circle cx="1425" cy="593" r="152" fill="url(#sZn)"/>
<circle cx="-290" cy="680" r="152" fill="url(#sPt)"/>
<circle cx="195" cy="680" r="152" fill="url(#sPt)"/>
<circle cx="680" cy="680" r="152" fill="url(#sPt)"/>
<circle cx="1165" cy="680" r="152" fill="url(#sPt)"/>
<circle cx="1650" cy="680" r="152" fill="url(#sPt)"/>
<circle cx="960" cy="585" r="150" fill="url(#sZn)"/>
<circle cx="-80" cy="730" r="157" fill="url(#sZn)"/>
<circle cx="410" cy="730" r="157" fill="url(#sZn)"/>
<circle cx="1390" cy="730" r="157" fill="url(#sZn)"/>
<circle cx="905" cy="640" r="165" fill="url(#sZn)"/>
<circle cx="-350" cy="810" r="162" fill="url(#sPt)"/>
<circle cx="140" cy="810" r="162" fill="url(#sPt)"/>
<circle cx="630" cy="810" r="162" fill="url(#sPt)"/>
<circle cx="1120" cy="810" r="162" fill="url(#sPt)"/>
<circle cx="1610" cy="810" r="162" fill="url(#sPt)"/>
<circle cx="-140" cy="860" r="166" fill="url(#sZn)"/>
<circle cx="360" cy="860" r="166" fill="url(#sZn)"/>
<circle cx="1355" cy="860" r="166" fill="url(#sZn)"/>
<circle cx="850" cy="790" r="172" fill="url(#sZn)"/>
<circle cx="-438" cy="960" r="182" fill="url(#sPt)"/>
<circle cx="68" cy="960" r="182" fill="url(#sPt)"/>
<circle cx="574" cy="960" r="182" fill="url(#sPt)"/>
<circle cx="1080" cy="960" r="182" fill="url(#sPt)"/>
<circle cx="1586" cy="960" r="182" fill="url(#sPt)"/>
<circle cx="-191" cy="1000" r="177" fill="url(#sZn)"/>
<circle cx="315" cy="1000" r="177" fill="url(#sZn)"/>
<circle cx="821" cy="1000" r="177" fill="url(#sZn)"/>
<circle cx="1327" cy="1000" r="177" fill="url(#sZn)"/>
<circle cx="1833" cy="1000" r="177" fill="url(#sZn)"/>
<circle cx="195" cy="205" r="65" fill="url(#sO)"/>
<circle cx="585" cy="290" r="88" fill="url(#sZc)"/>
<line x1="255" y1="287" x2="495" y2="322" stroke="#f0b429" stroke-width="20"/>
<line x1="375.0" y1="304.5" x2="495" y2="322" stroke="#e02424" stroke-width="20"/>
<circle cx="255" cy="280" r="96" fill="url(#sZc)"/>
<circle cx="495" cy="320" r="68" fill="url(#sO)"/>
<circle cx="135" cy="300" r="68" fill="url(#sO)"/>
<line x1="615" y1="510" x2="632" y2="555" stroke="#f0b429" stroke-width="20"/>
<line x1="595" y1="417" x2="825" y2="402" stroke="#f0b429" stroke-width="20"/>
<line x1="710.0" y1="409.5" x2="825" y2="402" stroke="#e02424" stroke-width="20"/>
<line x1="825" y1="400" x2="848" y2="475" stroke="#e02424" stroke-width="20"/>
<circle cx="435" cy="450" r="65" fill="url(#sO)"/>
<circle cx="595" cy="415" r="96" fill="url(#sZc)"/>
<line x1="190" y1="427" x2="435" y2="457" stroke="#f0b429" stroke-width="20"/>
<line x1="312.5" y1="442.0" x2="435" y2="457" stroke="#e02424" stroke-width="20"/>
<circle cx="190" cy="420" r="96" fill="url(#sZc)"/>
<circle cx="90" cy="475" r="55" fill="url(#sO)"/>
<circle cx="505" cy="540" r="88" fill="url(#sZc)"/>
<circle cx="390" cy="575" r="60" fill="url(#sO)"/>
<line x1="140" y1="560" x2="390" y2="587" stroke="#f0b429" stroke-width="20"/>
<line x1="265.0" y1="573.5" x2="390" y2="587" stroke="#e02424" stroke-width="20"/>
<circle cx="140" cy="545" r="96" fill="url(#sZc)"/>
<line x1="525" y1="735" x2="542" y2="790" stroke="#f0b429" stroke-width="20"/>
<line x1="510" y1="642" x2="745" y2="612" stroke="#f0b429" stroke-width="20"/>
<line x1="627.5" y1="627.0" x2="745" y2="612" stroke="#e02424" stroke-width="20"/>
<line x1="745" y1="610" x2="772" y2="665" stroke="#e02424" stroke-width="16"/>
<circle cx="510" cy="640" r="94" fill="url(#sZc)"/>
<line x1="135" y1="637" x2="390" y2="647" stroke="#f0b429" stroke-width="20"/>
<line x1="262.5" y1="642.0" x2="390" y2="647" stroke="#e02424" stroke-width="20"/>
<circle cx="135" cy="630" r="96" fill="url(#sZc)"/>
<line x1="390" y1="645" x2="405" y2="718" stroke="#e02424" stroke-width="16"/>
<circle cx="390" cy="645" r="70" fill="url(#sO)"/>
<line x1="745" y1="610" x2="828" y2="608" stroke="#e02424" stroke-width="16"/>
<line x1="786.5" y1="609.0" x2="828" y2="608" stroke="#ededed" stroke-width="16"/>
<circle cx="745" cy="610" r="48" fill="url(#sO)"/>
<circle cx="828" cy="608" r="32" fill="url(#sH)"/>
<line x1="825" y1="400" x2="895" y2="250" stroke="#e02424" stroke-width="18"/>
<line x1="860.0" y1="325.0" x2="895" y2="250" stroke="#9a9a9a" stroke-width="18"/>
<circle cx="825" cy="400" r="50" fill="url(#sO)"/>
<line x1="895" y1="250" x2="845" y2="130" stroke="#9a9a9a" stroke-width="16"/>
<line x1="870.0" y1="190.0" x2="845" y2="130" stroke="#ededed" stroke-width="16"/>
<line x1="895" y1="246" x2="1090" y2="243" stroke="#c4c4c4" stroke-width="26"/>
<line x1="895" y1="246" x2="1090" y2="243" stroke="#f4f4f4" stroke-width="7.8"/>
<circle cx="895" cy="250" r="65" fill="url(#sC)"/>
<circle cx="845" cy="130" r="40" fill="url(#sH)"/>
<circle cx="858" cy="250" r="34" fill="url(#sH)"/>
<circle cx="1175" cy="215" r="52" fill="url(#sC)"/>
<circle cx="1090" cy="240" r="60" fill="url(#sC)"/>
<line x1="1195" y1="245" x2="1375" y2="242" stroke="#c4c4c4" stroke-width="26"/>
<line x1="1195" y1="245" x2="1375" y2="242" stroke="#f4f4f4" stroke-width="7.8"/>
<circle cx="1355" cy="210" r="55" fill="url(#sC)"/>
<circle cx="1195" cy="262" r="62" fill="url(#sC)"/>
<circle cx="1130" cy="272" r="32" fill="url(#sH)"/>
<line x1="1460" y1="225" x2="1595" y2="222" stroke="#bdbdbd" stroke-width="16"/>
<line x1="1527.5" y1="223.5" x2="1595" y2="222" stroke="#ededed" stroke-width="16"/>
<circle cx="1460" cy="225" r="58" fill="url(#sC)"/>
<circle cx="1375" cy="258" r="62" fill="url(#sC)"/>
<circle cx="1452" cy="258" r="32" fill="url(#sH)"/>
<circle cx="1595" cy="222" r="40" fill="url(#sH)"/>
</g></g>
<g transform="translate(1700 780) scale(0.14950)"><g clip-path="url(#mclip5)">
<rect x="100" y="100" width="1580" height="1052" fill="#fff"/>
<circle cx="-185" cy="590" r="142" fill="url(#sPt)"/>
<circle cx="295" cy="590" r="142" fill="url(#sPt)"/>
<circle cx="775" cy="590" r="142" fill="url(#sPt)"/>
<circle cx="1255" cy="590" r="142" fill="url(#sPt)"/>
<circle cx="1735" cy="590" r="142" fill="url(#sPt)"/>
<circle cx="-5" cy="638" r="152" fill="url(#sZn)"/>
<circle cx="490" cy="638" r="152" fill="url(#sZn)"/>
<circle cx="985" cy="638" r="152" fill="url(#sZn)"/>
<circle cx="1480" cy="638" r="152" fill="url(#sZn)"/>
<circle cx="-235" cy="725" r="152" fill="url(#sPt)"/>
<circle cx="250" cy="725" r="152" fill="url(#sPt)"/>
<circle cx="735" cy="725" r="152" fill="url(#sPt)"/>
<circle cx="1220" cy="725" r="152" fill="url(#sPt)"/>
<circle cx="1705" cy="725" r="152" fill="url(#sPt)"/>
<circle cx="-25" cy="775" r="157" fill="url(#sZn)"/>
<circle cx="465" cy="775" r="157" fill="url(#sZn)"/>
<circle cx="955" cy="775" r="157" fill="url(#sZn)"/>
<circle cx="1445" cy="775" r="157" fill="url(#sZn)"/>
<circle cx="-295" cy="855" r="162" fill="url(#sPt)"/>
<circle cx="195" cy="855" r="162" fill="url(#sPt)"/>
<circle cx="685" cy="855" r="162" fill="url(#sPt)"/>
<circle cx="1175" cy="855" r="162" fill="url(#sPt)"/>
<circle cx="1665" cy="855" r="162" fill="url(#sPt)"/>
<circle cx="-85" cy="905" r="166" fill="url(#sZn)"/>
<circle cx="415" cy="905" r="166" fill="url(#sZn)"/>
<circle cx="910" cy="905" r="166" fill="url(#sZn)"/>
<circle cx="1410" cy="905" r="166" fill="url(#sZn)"/>
<circle cx="-383" cy="1005" r="182" fill="url(#sPt)"/>
<circle cx="123" cy="1005" r="182" fill="url(#sPt)"/>
<circle cx="629" cy="1005" r="182" fill="url(#sPt)"/>
<circle cx="1135" cy="1005" r="182" fill="url(#sPt)"/>
<circle cx="1641" cy="1005" r="182" fill="url(#sPt)"/>
<circle cx="-136" cy="1045" r="177" fill="url(#sZn)"/>
<circle cx="370" cy="1045" r="177" fill="url(#sZn)"/>
<circle cx="876" cy="1045" r="177" fill="url(#sZn)"/>
<circle cx="1382" cy="1045" r="177" fill="url(#sZn)"/>
<circle cx="1888" cy="1045" r="177" fill="url(#sZn)"/>
<circle cx="205" cy="275" r="55" fill="url(#sO)"/>
<circle cx="630" cy="340" r="88" fill="url(#sZc)"/>
<line x1="280" y1="357" x2="525" y2="382" stroke="#f0b429" stroke-width="20"/>
<line x1="402.5" y1="369.5" x2="525" y2="382" stroke="#e02424" stroke-width="20"/>
<circle cx="280" cy="350" r="96" fill="url(#sZc)"/>
<circle cx="525" cy="378" r="68" fill="url(#sO)"/>
<circle cx="165" cy="330" r="68" fill="url(#sO)"/>
<line x1="660" y1="550" x2="682" y2="595" stroke="#f0b429" stroke-width="20"/>
<line x1="640" y1="430" x2="850" y2="295" stroke="#f0b429" stroke-width="20"/>
<line x1="745.0" y1="362.5" x2="850" y2="295" stroke="#e02424" stroke-width="20"/>
<circle cx="495" cy="485" r="62" fill="url(#sO)"/>
<circle cx="630" cy="450" r="96" fill="url(#sZc)"/>
<line x1="245" y1="472" x2="495" y2="492" stroke="#f0b429" stroke-width="20"/>
<line x1="370.0" y1="482.0" x2="495" y2="492" stroke="#e02424" stroke-width="20"/>
<circle cx="245" cy="465" r="96" fill="url(#sZc)"/>
<circle cx="130" cy="520" r="60" fill="url(#sO)"/>
<circle cx="550" cy="590" r="92" fill="url(#sZc)"/>
<line x1="205" y1="597" x2="455" y2="557" stroke="#f0b429" stroke-width="20"/>
<line x1="330.0" y1="577.0" x2="455" y2="557" stroke="#e02424" stroke-width="20"/>
<circle cx="205" cy="590" r="96" fill="url(#sZc)"/>
<circle cx="455" cy="550" r="68" fill="url(#sO)"/>
<circle cx="105" cy="615" r="45" fill="url(#sO)"/>
<line x1="545" y1="790" x2="572" y2="830" stroke="#f0b429" stroke-width="20"/>
<circle cx="515" cy="700" r="96" fill="url(#sZc)"/>
<line x1="165" y1="717" x2="415" y2="677" stroke="#f0b429" stroke-width="20"/>
<line x1="290.0" y1="697.0" x2="415" y2="677" stroke="#e02424" stroke-width="20"/>
<circle cx="165" cy="715" r="98" fill="url(#sZc)"/>
<line x1="415" y1="670" x2="445" y2="745" stroke="#e02424" stroke-width="16"/>
<circle cx="415" cy="670" r="68" fill="url(#sO)"/>
<circle cx="1120" cy="195" r="34" fill="url(#sH)"/>
<circle cx="1440" cy="150" r="30" fill="url(#sH)"/>
<circle cx="1210" cy="215" r="58" fill="url(#sC)"/>
<line x1="1210" y1="218" x2="1385" y2="198" stroke="#c4c4c4" stroke-width="20"/>
<line x1="1210" y1="218" x2="1385" y2="198" stroke="#f4f4f4" stroke-width="6.0"/>
<circle cx="1495" cy="225" r="58" fill="url(#sC)"/>
<line x1="1495" y1="225" x2="1635" y2="212" stroke="#bdbdbd" stroke-width="16"/>
<line x1="1565.0" y1="218.5" x2="1635" y2="212" stroke="#ededed" stroke-width="16"/>
<circle cx="1385" cy="195" r="58" fill="url(#sC)"/>
<circle cx="850" cy="290" r="48" fill="url(#sO)"/>
<line x1="960" y1="300" x2="1140" y2="275" stroke="#c4c4c4" stroke-width="26"/>
<line x1="960" y1="300" x2="1140" y2="275" stroke="#f4f4f4" stroke-width="7.8"/>
<circle cx="960" cy="300" r="62" fill="url(#sC)"/>
<circle cx="920" cy="368" r="36" fill="url(#sH)"/>
<circle cx="1140" cy="275" r="60" fill="url(#sC)"/>
<line x1="1250" y1="295" x2="1425" y2="280" stroke="#c4c4c4" stroke-width="26"/>
<line x1="1250" y1="295" x2="1425" y2="280" stroke="#f4f4f4" stroke-width="7.8"/>
<circle cx="1250" cy="295" r="62" fill="url(#sC)"/>
<circle cx="1200" cy="350" r="34" fill="url(#sH)"/>
<circle cx="1425" cy="280" r="60" fill="url(#sC)"/>
<circle cx="1515" cy="310" r="34" fill="url(#sH)"/>
<circle cx="1635" cy="212" r="36" fill="url(#sH)"/>
</g></g>
<g transform="translate(1380 935) scale(0.14950)"><g clip-path="url(#mclip6)">
<circle cx="-170" cy="590" r="142" fill="url(#sPt)"/>
<circle cx="310" cy="590" r="142" fill="url(#sPt)"/>
<circle cx="790" cy="590" r="142" fill="url(#sPt)"/>
<circle cx="1270" cy="590" r="142" fill="url(#sPt)"/>
<circle cx="1750" cy="590" r="142" fill="url(#sPt)"/>
<circle cx="10" cy="638" r="152" fill="url(#sZn)"/>
<circle cx="505" cy="638" r="152" fill="url(#sZn)"/>
<circle cx="1000" cy="638" r="152" fill="url(#sZn)"/>
<circle cx="1495" cy="638" r="152" fill="url(#sZn)"/>
<circle cx="-220" cy="725" r="152" fill="url(#sPt)"/>
<circle cx="265" cy="725" r="152" fill="url(#sPt)"/>
<circle cx="750" cy="725" r="152" fill="url(#sPt)"/>
<circle cx="1235" cy="725" r="152" fill="url(#sPt)"/>
<circle cx="1720" cy="725" r="152" fill="url(#sPt)"/>
<circle cx="-10" cy="775" r="157" fill="url(#sZn)"/>
<circle cx="480" cy="775" r="157" fill="url(#sZn)"/>
<circle cx="970" cy="775" r="157" fill="url(#sZn)"/>
<circle cx="1460" cy="775" r="157" fill="url(#sZn)"/>
<circle cx="1000" cy="730" r="150" fill="url(#sZn)"/>
<circle cx="-280" cy="855" r="162" fill="url(#sPt)"/>
<circle cx="210" cy="855" r="162" fill="url(#sPt)"/>
<circle cx="700" cy="855" r="162" fill="url(#sPt)"/>
<circle cx="1190" cy="855" r="162" fill="url(#sPt)"/>
<circle cx="1680" cy="855" r="162" fill="url(#sPt)"/>
<circle cx="-70" cy="905" r="166" fill="url(#sZn)"/>
<circle cx="430" cy="905" r="166" fill="url(#sZn)"/>
<circle cx="1425" cy="905" r="166" fill="url(#sZn)"/>
<circle cx="905" cy="812" r="172" fill="url(#sZn)"/>
<circle cx="-368" cy="1005" r="182" fill="url(#sPt)"/>
<circle cx="138" cy="1005" r="182" fill="url(#sPt)"/>
<circle cx="644" cy="1005" r="182" fill="url(#sPt)"/>
<circle cx="1150" cy="1005" r="182" fill="url(#sPt)"/>
<circle cx="1656" cy="1005" r="182" fill="url(#sPt)"/>
<circle cx="-121" cy="1045" r="177" fill="url(#sZn)"/>
<circle cx="385" cy="1045" r="177" fill="url(#sZn)"/>
<circle cx="891" cy="1045" r="177" fill="url(#sZn)"/>
<circle cx="1397" cy="1045" r="177" fill="url(#sZn)"/>
<circle cx="1903" cy="1045" r="177" fill="url(#sZn)"/>
<circle cx="250" cy="295" r="55" fill="url(#sO)"/>
<circle cx="645" cy="340" r="90" fill="url(#sZc)"/>
<line x1="95" y1="322" x2="190" y2="345" stroke="#f0b429" stroke-width="14"/>
<line x1="142.5" y1="333.5" x2="190" y2="345" stroke="#e02424" stroke-width="14"/>
<line x1="95" y1="385" x2="190" y2="350" stroke="#e02424" stroke-width="14"/>
<circle cx="545" cy="370" r="58" fill="url(#sO)"/>
<line x1="300" y1="377" x2="545" y2="377" stroke="#f0b429" stroke-width="20"/>
<line x1="422.5" y1="377.0" x2="545" y2="377" stroke="#e02424" stroke-width="20"/>
<circle cx="300" cy="355" r="96" fill="url(#sZc)"/>
<circle cx="190" cy="345" r="68" fill="url(#sO)"/>
<line x1="670" y1="545" x2="688" y2="590" stroke="#f0b429" stroke-width="20"/>
<line x1="650" y1="430" x2="858" y2="280" stroke="#f0b429" stroke-width="20"/>
<line x1="754.0" y1="355.0" x2="858" y2="280" stroke="#e02424" stroke-width="20"/>
<circle cx="640" cy="445" r="94" fill="url(#sZc)"/>
<line x1="270" y1="452" x2="515" y2="437" stroke="#f0b429" stroke-width="20"/>
<line x1="392.5" y1="444.5" x2="515" y2="437" stroke="#e02424" stroke-width="20"/>
<circle cx="270" cy="460" r="96" fill="url(#sZc)"/>
<circle cx="515" cy="435" r="68" fill="url(#sO)"/>
<circle cx="150" cy="510" r="52" fill="url(#sO)"/>
<circle cx="565" cy="580" r="90" fill="url(#sZc)"/>
<circle cx="460" cy="620" r="56" fill="url(#sO)"/>
<line x1="215" y1="615" x2="455" y2="632" stroke="#f0b429" stroke-width="20"/>
<line x1="335.0" y1="623.5" x2="455" y2="632" stroke="#e02424" stroke-width="20"/>
<circle cx="215" cy="590" r="94" fill="url(#sZc)"/>
<circle cx="125" cy="590" r="58" fill="url(#sO)"/>
<line x1="595" y1="770" x2="612" y2="830" stroke="#f0b429" stroke-width="20"/>
<line x1="575" y1="672" x2="810" y2="634" stroke="#f0b429" stroke-width="20"/>
<line x1="692.5" y1="653.0" x2="810" y2="634" stroke="#e02424" stroke-width="20"/>
<line x1="810" y1="632" x2="842" y2="695" stroke="#e02424" stroke-width="16"/>
<circle cx="575" cy="675" r="94" fill="url(#sZc)"/>
<line x1="200" y1="702" x2="455" y2="682" stroke="#f0b429" stroke-width="20"/>
<line x1="327.5" y1="692.0" x2="455" y2="682" stroke="#e02424" stroke-width="20"/>
<circle cx="200" cy="700" r="96" fill="url(#sZc)"/>
<line x1="455" y1="675" x2="472" y2="750" stroke="#e02424" stroke-width="16"/>
<circle cx="455" cy="675" r="70" fill="url(#sO)"/>
<line x1="810" y1="632" x2="893" y2="630" stroke="#e02424" stroke-width="16"/>
<line x1="851.5" y1="631.0" x2="893" y2="630" stroke="#ededed" stroke-width="16"/>
<circle cx="810" cy="632" r="46" fill="url(#sO)"/>
<circle cx="893" cy="630" r="32" fill="url(#sH)"/>
<circle cx="1126" cy="181" r="34" fill="url(#sH)"/>
<circle cx="1446" cy="136" r="30" fill="url(#sH)"/>
<circle cx="1216" cy="201" r="58" fill="url(#sC)"/>
<line x1="1216" y1="204" x2="1391" y2="184" stroke="#c4c4c4" stroke-width="20"/>
<line x1="1216" y1="204" x2="1391" y2="184" stroke="#f4f4f4" stroke-width="6.0"/>
<circle cx="1501" cy="211" r="58" fill="url(#sC)"/>
<line x1="1501" y1="211" x2="1641" y2="198" stroke="#bdbdbd" stroke-width="16"/>
<line x1="1571.0" y1="204.5" x2="1641" y2="198" stroke="#ededed" stroke-width="16"/>
<circle cx="1391" cy="181" r="58" fill="url(#sC)"/>
<circle cx="856" cy="276" r="48" fill="url(#sO)"/>
<line x1="966" y1="286" x2="1146" y2="261" stroke="#c4c4c4" stroke-width="26"/>
<line x1="966" y1="286" x2="1146" y2="261" stroke="#f4f4f4" stroke-width="7.8"/>
<circle cx="966" cy="286" r="62" fill="url(#sC)"/>
<circle cx="926" cy="354" r="36" fill="url(#sH)"/>
<circle cx="1146" cy="261" r="60" fill="url(#sC)"/>
<line x1="1256" y1="281" x2="1431" y2="266" stroke="#c4c4c4" stroke-width="26"/>
<line x1="1256" y1="281" x2="1431" y2="266" stroke="#f4f4f4" stroke-width="7.8"/>
<circle cx="1256" cy="281" r="62" fill="url(#sC)"/>
<circle cx="1206" cy="336" r="34" fill="url(#sH)"/>
<circle cx="1431" cy="266" r="60" fill="url(#sC)"/>
<circle cx="1521" cy="296" r="34" fill="url(#sH)"/>
<circle cx="1641" cy="198" r="36" fill="url(#sH)"/>
</g></g>
<g transform="translate(970 910) scale(0.14950)"><g clip-path="url(#mclip7)">
<circle cx="-150" cy="616" r="142" fill="url(#sPt)"/>
<circle cx="330" cy="616" r="142" fill="url(#sPt)"/>
<circle cx="810" cy="616" r="142" fill="url(#sPt)"/>
<circle cx="1290" cy="616" r="142" fill="url(#sPt)"/>
<circle cx="1770" cy="616" r="142" fill="url(#sPt)"/>
<circle cx="30" cy="664" r="152" fill="url(#sZm)"/>
<circle cx="525" cy="664" r="152" fill="url(#sZm)"/>
<circle cx="1020" cy="664" r="152" fill="url(#sZm)"/>
<circle cx="1515" cy="664" r="152" fill="url(#sZm)"/>
<circle cx="-200" cy="751" r="152" fill="url(#sPt)"/>
<circle cx="285" cy="751" r="152" fill="url(#sPt)"/>
<circle cx="770" cy="751" r="152" fill="url(#sPt)"/>
<circle cx="1255" cy="751" r="152" fill="url(#sPt)"/>
<circle cx="1740" cy="751" r="152" fill="url(#sPt)"/>
<circle cx="10" cy="801" r="157" fill="url(#sZm)"/>
<circle cx="500" cy="801" r="157" fill="url(#sZm)"/>
<circle cx="1480" cy="801" r="157" fill="url(#sZm)"/>
<circle cx="975" cy="722" r="172" fill="url(#sZm)"/>
<circle cx="-260" cy="881" r="162" fill="url(#sPt)"/>
<circle cx="230" cy="881" r="162" fill="url(#sPt)"/>
<circle cx="720" cy="881" r="162" fill="url(#sPt)"/>
<circle cx="1210" cy="881" r="162" fill="url(#sPt)"/>
<circle cx="1700" cy="881" r="162" fill="url(#sPt)"/>
<circle cx="-50" cy="931" r="166" fill="url(#sZm)"/>
<circle cx="450" cy="931" r="166" fill="url(#sZm)"/>
<circle cx="945" cy="931" r="166" fill="url(#sZm)"/>
<circle cx="1445" cy="931" r="166" fill="url(#sZm)"/>
<circle cx="-348" cy="1031" r="182" fill="url(#sPt)"/>
<circle cx="158" cy="1031" r="182" fill="url(#sPt)"/>
<circle cx="664" cy="1031" r="182" fill="url(#sPt)"/>
<circle cx="1170" cy="1031" r="182" fill="url(#sPt)"/>
<circle cx="1676" cy="1031" r="182" fill="url(#sPt)"/>
<circle cx="-101" cy="1071" r="177" fill="url(#sZm)"/>
<circle cx="405" cy="1071" r="177" fill="url(#sZm)"/>
<circle cx="911" cy="1071" r="177" fill="url(#sZm)"/>
<circle cx="1417" cy="1071" r="177" fill="url(#sZm)"/>
<circle cx="1923" cy="1071" r="177" fill="url(#sZm)"/>
<circle cx="250" cy="310" r="50" fill="url(#sO)"/>
<circle cx="650" cy="375" r="90" fill="url(#sZc)"/>
<line x1="105" y1="352" x2="205" y2="380" stroke="#f0b429" stroke-width="14"/>
<line x1="155.0" y1="366.0" x2="205" y2="380" stroke="#e02424" stroke-width="14"/>
<line x1="105" y1="425" x2="205" y2="390" stroke="#e02424" stroke-width="14"/>
<line x1="315" y1="402" x2="555" y2="412" stroke="#f0b429" stroke-width="20"/>
<line x1="435.0" y1="407.0" x2="555" y2="412" stroke="#e02424" stroke-width="20"/>
<circle cx="315" cy="385" r="96" fill="url(#sZc)"/>
<circle cx="555" cy="410" r="62" fill="url(#sO)"/>
<circle cx="205" cy="385" r="66" fill="url(#sO)"/>
<line x1="680" y1="580" x2="697" y2="620" stroke="#f0b429" stroke-width="20"/>
<line x1="660" y1="475" x2="865" y2="355" stroke="#f0b429" stroke-width="20"/>
<line x1="762.5" y1="415.0" x2="865" y2="355" stroke="#e02424" stroke-width="20"/>
<circle cx="520" cy="525" r="62" fill="url(#sO)"/>
<circle cx="650" cy="485" r="94" fill="url(#sZc)"/>
<line x1="275" y1="507" x2="520" y2="522" stroke="#f0b429" stroke-width="20"/>
<line x1="397.5" y1="514.5" x2="520" y2="522" stroke="#e02424" stroke-width="20"/>
<circle cx="275" cy="495" r="94" fill="url(#sZc)"/>
<circle cx="170" cy="555" r="60" fill="url(#sO)"/>
<circle cx="590" cy="615" r="90" fill="url(#sZc)"/>
<line x1="245" y1="627" x2="485" y2="607" stroke="#f0b429" stroke-width="20"/>
<line x1="365.0" y1="617.0" x2="485" y2="607" stroke="#e02424" stroke-width="20"/>
<circle cx="245" cy="620" r="94" fill="url(#sZc)"/>
<circle cx="485" cy="605" r="66" fill="url(#sO)"/>
<circle cx="128" cy="650" r="48" fill="url(#sO)"/>
<line x1="575" y1="820" x2="597" y2="855" stroke="#f0b429" stroke-width="20"/>
<circle cx="540" cy="735" r="94" fill="url(#sZc)"/>
<line x1="200" y1="737" x2="440" y2="717" stroke="#f0b429" stroke-width="20"/>
<line x1="320.0" y1="727.0" x2="440" y2="717" stroke="#e02424" stroke-width="20"/>
<circle cx="200" cy="745" r="96" fill="url(#sZc)"/>
<line x1="440" y1="715" x2="468" y2="790" stroke="#e02424" stroke-width="16"/>
<circle cx="440" cy="715" r="68" fill="url(#sO)"/>
<line x1="945" y1="518" x2="952" y2="582" stroke="#e02424" stroke-width="16"/>
<line x1="970" y1="370" x2="945" y2="518" stroke="#9a9a9a" stroke-width="18"/>
<line x1="957.5" y1="444.0" x2="945" y2="518" stroke="#e02424" stroke-width="18"/>
<circle cx="945" cy="518" r="46" fill="url(#sO)"/>
<circle cx="865" cy="355" r="48" fill="url(#sO)"/>
<line x1="970" y1="370" x2="915" y2="250" stroke="#9a9a9a" stroke-width="16"/>
<line x1="942.5" y1="310.0" x2="915" y2="250" stroke="#ededed" stroke-width="16"/>
<line x1="970" y1="370" x2="1155" y2="325" stroke="#c4c4c4" stroke-width="26"/>
<line x1="970" y1="370" x2="1155" y2="325" stroke="#f4f4f4" stroke-width="7.8"/>
<circle cx="970" cy="370" r="62" fill="url(#sC)"/>
<circle cx="915" cy="250" r="40" fill="url(#sH)"/>
<line x1="1195" y1="210" x2="1098" y2="145" stroke="#bdbdbd" stroke-width="14"/>
<line x1="1146.5" y1="177.5" x2="1098" y2="145" stroke="#ededed" stroke-width="14"/>
<line x1="1370" y1="175" x2="1400" y2="85" stroke="#bdbdbd" stroke-width="14"/>
<line x1="1385.0" y1="130.0" x2="1400" y2="85" stroke="#ededed" stroke-width="14"/>
<line x1="1500" y1="240" x2="1635" y2="212" stroke="#bdbdbd" stroke-width="14"/>
<line x1="1567.5" y1="226.0" x2="1635" y2="212" stroke="#ededed" stroke-width="14"/>
<line x1="1460" y1="350" x2="1565" y2="410" stroke="#bdbdbd" stroke-width="14"/>
<line x1="1512.5" y1="380.0" x2="1565" y2="410" stroke="#ededed" stroke-width="14"/>
<line x1="1285" y1="395" x2="1255" y2="487" stroke="#bdbdbd" stroke-width="14"/>
<line x1="1270.0" y1="441.0" x2="1255" y2="487" stroke="#ededed" stroke-width="14"/>
<line x1="1155" y1="325" x2="1195" y2="210" stroke="#c4c4c4" stroke-width="22"/>
<line x1="1155" y1="325" x2="1195" y2="210" stroke="#f4f4f4" stroke-width="6.6"/>
<line x1="1195" y1="210" x2="1370" y2="175" stroke="#c4c4c4" stroke-width="22"/>
<line x1="1195" y1="210" x2="1370" y2="175" stroke="#f4f4f4" stroke-width="6.6"/>
<line x1="1370" y1="175" x2="1500" y2="240" stroke="#c4c4c4" stroke-width="22"/>
<line x1="1370" y1="175" x2="1500" y2="240" stroke="#f4f4f4" stroke-width="6.6"/>
<line x1="1500" y1="240" x2="1460" y2="350" stroke="#c4c4c4" stroke-width="22"/>
<line x1="1500" y1="240" x2="1460" y2="350" stroke="#f4f4f4" stroke-width="6.6"/>
<line x1="1460" y1="350" x2="1285" y2="395" stroke="#c4c4c4" stroke-width="22"/>
<line x1="1460" y1="350" x2="1285" y2="395" stroke="#f4f4f4" stroke-width="6.6"/>
<line x1="1285" y1="395" x2="1155" y2="325" stroke="#c4c4c4" stroke-width="22"/>
<line x1="1285" y1="395" x2="1155" y2="325" stroke="#f4f4f4" stroke-width="6.6"/>
<circle cx="1155" cy="325" r="60" fill="url(#sC)"/>
<circle cx="1195" cy="210" r="58" fill="url(#sC)"/>
<circle cx="1370" cy="175" r="58" fill="url(#sC)"/>
<circle cx="1500" cy="240" r="60" fill="url(#sC)"/>
<circle cx="1460" cy="350" r="58" fill="url(#sC)"/>
<circle cx="1285" cy="395" r="58" fill="url(#sC)"/>
<circle cx="1098" cy="145" r="36" fill="url(#sH)"/>
<circle cx="1400" cy="85" r="32" fill="url(#sH)"/>
<circle cx="1635" cy="212" r="36" fill="url(#sH)"/>
<circle cx="1565" cy="410" r="34" fill="url(#sH)"/>
<circle cx="1255" cy="487" r="36" fill="url(#sH)"/>
</g></g>
<g transform="translate(720 680) scale(0.14950)"><g clip-path="url(#mclip8)">
<circle cx="-172" cy="592" r="142" fill="url(#sPt)"/>
<circle cx="308" cy="592" r="142" fill="url(#sPt)"/>
<circle cx="788" cy="592" r="142" fill="url(#sPt)"/>
<circle cx="1268" cy="592" r="142" fill="url(#sPt)"/>
<circle cx="1748" cy="592" r="142" fill="url(#sPt)"/>
<circle cx="8" cy="640" r="152" fill="url(#sZn)"/>
<circle cx="503" cy="640" r="152" fill="url(#sZn)"/>
<circle cx="998" cy="640" r="152" fill="url(#sZn)"/>
<circle cx="1493" cy="640" r="152" fill="url(#sZn)"/>
<circle cx="-222" cy="727" r="152" fill="url(#sPt)"/>
<circle cx="263" cy="727" r="152" fill="url(#sPt)"/>
<circle cx="748" cy="727" r="152" fill="url(#sPt)"/>
<circle cx="1233" cy="727" r="152" fill="url(#sPt)"/>
<circle cx="1718" cy="727" r="152" fill="url(#sPt)"/>
<circle cx="-12" cy="777" r="157" fill="url(#sZn)"/>
<circle cx="478" cy="777" r="157" fill="url(#sZn)"/>
<circle cx="968" cy="777" r="157" fill="url(#sZn)"/>
<circle cx="1458" cy="777" r="157" fill="url(#sZn)"/>
<circle cx="-282" cy="857" r="162" fill="url(#sPt)"/>
<circle cx="208" cy="857" r="162" fill="url(#sPt)"/>
<circle cx="698" cy="857" r="162" fill="url(#sPt)"/>
<circle cx="1188" cy="857" r="162" fill="url(#sPt)"/>
<circle cx="1678" cy="857" r="162" fill="url(#sPt)"/>
<circle cx="-72" cy="907" r="166" fill="url(#sZn)"/>
<circle cx="428" cy="907" r="166" fill="url(#sZn)"/>
<circle cx="923" cy="907" r="166" fill="url(#sZn)"/>
<circle cx="1423" cy="907" r="166" fill="url(#sZn)"/>
<circle cx="-370" cy="1007" r="182" fill="url(#sPt)"/>
<circle cx="136" cy="1007" r="182" fill="url(#sPt)"/>
<circle cx="642" cy="1007" r="182" fill="url(#sPt)"/>
<circle cx="1148" cy="1007" r="182" fill="url(#sPt)"/>
<circle cx="1654" cy="1007" r="182" fill="url(#sPt)"/>
<circle cx="-123" cy="1047" r="177" fill="url(#sZn)"/>
<circle cx="383" cy="1047" r="177" fill="url(#sZn)"/>
<circle cx="889" cy="1047" r="177" fill="url(#sZn)"/>
<circle cx="1395" cy="1047" r="177" fill="url(#sZn)"/>
<circle cx="1901" cy="1047" r="177" fill="url(#sZn)"/>
<circle cx="225" cy="300" r="50" fill="url(#sO)"/>
<circle cx="640" cy="350" r="90" fill="url(#sZc)"/>
<line x1="295" y1="377" x2="540" y2="387" stroke="#f0b429" stroke-width="20"/>
<line x1="417.5" y1="382.0" x2="540" y2="387" stroke="#e02424" stroke-width="20"/>
<circle cx="295" cy="365" r="96" fill="url(#sZc)"/>
<circle cx="540" cy="385" r="65" fill="url(#sO)"/>
<circle cx="175" cy="350" r="68" fill="url(#sO)"/>
<line x1="670" y1="555" x2="688" y2="595" stroke="#f0b429" stroke-width="20"/>
<line x1="650" y1="445" x2="858" y2="300" stroke="#f0b429" stroke-width="20"/>
<line x1="754.0" y1="372.5" x2="858" y2="300" stroke="#e02424" stroke-width="20"/>
<circle cx="505" cy="500" r="62" fill="url(#sO)"/>
<circle cx="640" cy="455" r="94" fill="url(#sZc)"/>
<line x1="255" y1="487" x2="505" y2="507" stroke="#f0b429" stroke-width="20"/>
<line x1="380.0" y1="497.0" x2="505" y2="507" stroke="#e02424" stroke-width="20"/>
<circle cx="255" cy="475" r="94" fill="url(#sZc)"/>
<circle cx="145" cy="545" r="55" fill="url(#sO)"/>
<circle cx="575" cy="600" r="90" fill="url(#sZc)"/>
<line x1="220" y1="602" x2="465" y2="562" stroke="#f0b429" stroke-width="20"/>
<line x1="342.5" y1="582.0" x2="465" y2="562" stroke="#e02424" stroke-width="20"/>
<circle cx="220" cy="600" r="94" fill="url(#sZc)"/>
<circle cx="465" cy="555" r="66" fill="url(#sO)"/>
<circle cx="118" cy="638" r="45" fill="url(#sO)"/>
<line x1="560" y1="795" x2="582" y2="835" stroke="#f0b429" stroke-width="20"/>
<circle cx="535" cy="705" r="94" fill="url(#sZc)"/>
<line x1="185" y1="722" x2="430" y2="687" stroke="#f0b429" stroke-width="20"/>
<line x1="307.5" y1="704.5" x2="430" y2="687" stroke="#e02424" stroke-width="20"/>
<circle cx="185" cy="730" r="96" fill="url(#sZc)"/>
<line x1="430" y1="682" x2="458" y2="755" stroke="#e02424" stroke-width="16"/>
<circle cx="430" cy="682" r="68" fill="url(#sO)"/>
<circle cx="1095" cy="222" r="32" fill="url(#sH)"/>
<circle cx="1405" cy="150" r="28" fill="url(#sH)"/>
<circle cx="1205" cy="225" r="55" fill="url(#sC)"/>
<line x1="1205" y1="228" x2="1368" y2="198" stroke="#c4c4c4" stroke-width="20"/>
<line x1="1205" y1="228" x2="1368" y2="198" stroke="#f4f4f4" stroke-width="6.0"/>
<circle cx="1500" cy="200" r="56" fill="url(#sC)"/>
<line x1="1500" y1="200" x2="1635" y2="180" stroke="#bdbdbd" stroke-width="14"/>
<line x1="1567.5" y1="190.0" x2="1635" y2="180" stroke="#ededed" stroke-width="14"/>
<circle cx="1368" cy="195" r="58" fill="url(#sC)"/>
<circle cx="858" cy="300" r="50" fill="url(#sO)"/>
<line x1="942" y1="420" x2="1045" y2="462" stroke="#e02424" stroke-width="16"/>
<line x1="993.5" y1="441.0" x2="1045" y2="462" stroke="#ededed" stroke-width="16"/>
<line x1="980" y1="330" x2="1160" y2="285" stroke="#c4c4c4" stroke-width="26"/>
<line x1="980" y1="330" x2="1160" y2="285" stroke="#f4f4f4" stroke-width="7.8"/>
<circle cx="980" cy="330" r="64" fill="url(#sC)"/>
<circle cx="942" cy="420" r="48" fill="url(#sO)"/>
<circle cx="1045" cy="462" r="36" fill="url(#sH)"/>
<circle cx="1160" cy="285" r="60" fill="url(#sC)"/>
<line x1="1290" y1="285" x2="1455" y2="250" stroke="#c4c4c4" stroke-width="26"/>
<line x1="1290" y1="285" x2="1455" y2="250" stroke="#f4f4f4" stroke-width="7.8"/>
<circle cx="1290" cy="285" r="60" fill="url(#sC)"/>
<circle cx="1258" cy="322" r="34" fill="url(#sH)"/>
<circle cx="1455" cy="250" r="60" fill="url(#sC)"/>
<circle cx="1560" cy="250" r="32" fill="url(#sH)"/>
<circle cx="1635" cy="180" r="34" fill="url(#sH)"/>
</g></g>
<rect x="983.5" y="1186" width="64.5" height="60.5" fill="#f9f9f9"/>
<rect x="1194" y="1186" width="64.5" height="60.5" fill="#f9f9f9"/>
<circle cx="1015.2" cy="1216.6" r="29.3" fill="url(#lPt)"/>
<circle cx="1226.4" cy="1214.9" r="28.6" fill="url(#lZn)"/>
<circle cx="1419.5" cy="1214.7" r="12.6" fill="url(#sO)" stroke="#5a0a0a" stroke-width="1"/>
<circle cx="1590.0" cy="1215.8" r="14.4" fill="url(#sC)" stroke="#444" stroke-width="1"/>
<circle cx="1743.7" cy="1217.7" r="10.3" fill="url(#sH)" stroke="#888" stroke-width="1"/>
<path d="M1045.89,417.39 A412.3,322.6 0 0 1 1171.13,325.67" stroke="#000" stroke-width="4.1" fill="none"/>
<polygon points="1196.16,314.76 1170.84,336.62 1166.90,327.70 1162.95,318.79" fill="#000"/>
<path d="M1493.39,290.84 A412.3,322.6 0 0 1 1610.03,332.05" stroke="#000" stroke-width="4.1" fill="none"/>
<polygon points="1633.93,345.27 1601.17,338.49 1605.84,329.94 1610.52,321.38" fill="#000"/>
<path d="M1703.12,397.54 A412.3,322.6 0 0 1 1752.69,457.35" stroke="#000" stroke-width="4.1" fill="none"/>
<polygon points="1766.35,481.00 1741.72,458.37 1750.13,453.42 1758.53,448.48" fill="#000"/>
<path d="M1786.26,530.81 A412.3,322.6 0 0 1 1770.73,713.96" stroke="#000" stroke-width="4.1" fill="none"/>
<polygon points="1757.87,738.07 1764.05,705.19 1772.69,709.71 1781.34,714.23" fill="#000"/>
<path d="M1712.39,797.06 A412.3,322.6 0 0 1 1574.65,887.98" stroke="#000" stroke-width="4.1" fill="none"/>
<polygon points="1549.18,897.51 1575.62,877.03 1579.09,886.14 1582.55,895.25" fill="#000"/>
<path d="M1332.45,921.96 A412.3,322.6 0 0 1 1278.25,913.69" stroke="#000" stroke-width="4.1" fill="none"/>
<polygon points="1251.61,907.39 1284.99,905.11 1282.79,914.61 1280.59,924.11" fill="#000"/>
<path d="M1171.29,878.20 A412.3,322.6 0 0 1 1007.67,733.51" stroke="#000" stroke-width="4.1" fill="none"/>
<polygon points="995.29,709.24 1018.72,733.13 1010.07,737.63 1001.42,742.13" fill="#000"/>
<path d="M973.32,629.55 A412.3,322.6 0 0 1 988.53,510.94" stroke="#000" stroke-width="4.1" fill="none"/>
<polygon points="999.38,485.89 995.89,519.16 986.91,515.37 977.93,511.57" fill="#000"/>
<path d="M1046.60,324.80 C1046.72,327.58 1046.02,335.93 1047.30,341.50 C1048.58,347.07 1050.57,353.72 1054.30,358.20 C1058.03,362.68 1064.57,366.38 1069.70,368.40 C1074.83,370.42 1079.88,370.38 1085.10,370.30 C1090.32,370.22 1095.02,369.18 1101.00,367.90 C1106.98,366.62 1113.40,363.58 1121.00,362.60 C1128.60,361.62 1138.48,361.00 1146.60,362.00 C1154.72,363.00 1164.54,366.85 1169.70,368.60 C1174.86,370.35 1176.27,371.84 1177.59,372.49" stroke="#000" stroke-width="2.4" fill="none" stroke-linecap="butt"/>
<polygon points="1191.40,379.30 1169.01,374.95 1171.67,369.57 1174.32,364.19" fill="#000"/>
<path d="M1114.50,418.40 C1112.37,416.68 1105.00,412.37 1101.70,408.10 C1098.40,403.83 1095.95,397.48 1094.70,392.80 C1093.45,388.12 1093.62,383.80 1094.20,380.00 C1094.78,376.20 1097.53,371.67 1098.20,370.00" stroke="#000" stroke-width="2.4" fill="none" stroke-linecap="butt"/>
<path d="M1465.50,374.90 C1468.30,370.10 1475.48,355.30 1482.30,346.10 C1489.12,336.90 1499.18,326.10 1506.40,319.70 C1513.62,313.30 1520.80,310.05 1525.60,307.70 C1530.40,305.35 1531.60,304.80 1535.20,305.60 C1538.80,306.40 1544.00,308.55 1547.20,312.50 C1550.40,316.45 1552.72,322.90 1554.40,329.30 C1556.08,335.70 1557.30,343.30 1557.30,350.90 C1557.30,358.50 1555.16,370.10 1554.40,374.90 C1553.64,379.70 1553.00,378.88 1552.72,379.68" stroke="#000" stroke-width="2.4" fill="none" stroke-linecap="butt"/>
<polygon points="1547.60,394.20 1549.25,371.46 1554.91,373.45 1560.57,375.44" fill="#000"/>
<path d="M1712.50,407.50 C1714.08,410.08 1720.33,417.92 1722.00,423.00 C1723.67,428.08 1724.17,433.33 1722.50,438.00 C1720.83,442.67 1716.42,447.42 1712.00,451.00 C1707.58,454.58 1699.16,457.96 1696.00,459.50 C1692.84,461.04 1693.53,460.12 1693.04,460.25" stroke="#000" stroke-width="2.4" fill="none" stroke-linecap="butt"/>
<polygon points="1678.10,464.00 1697.97,452.82 1699.44,458.64 1700.90,464.46" fill="#000"/>
<path d="M1795.60,621.00 C1794.83,624.33 1793.60,635.08 1791.00,641.00 C1788.40,646.92 1784.83,652.25 1780.00,656.50 C1775.17,660.75 1767.82,664.48 1762.00,666.50 C1756.18,668.52 1747.90,668.25 1745.08,668.60" stroke="#000" stroke-width="2.4" fill="none" stroke-linecap="butt"/>
<polygon points="1729.80,670.50 1750.89,661.83 1751.63,667.79 1752.37,673.74" fill="#000"/>
<path d="M1595.70,763.00 C1598.42,766.00 1606.95,773.50 1612.00,781.00 C1617.05,788.50 1622.30,799.72 1626.00,808.00 C1629.70,816.28 1632.40,825.13 1634.20,830.70 C1636.00,836.27 1636.63,838.20 1636.80,841.40 C1636.97,844.60 1636.17,847.03 1635.20,849.90 C1634.23,852.77 1632.87,856.43 1631.00,858.60 C1629.13,860.77 1626.50,861.85 1624.00,862.90 C1621.50,863.95 1619.00,864.62 1616.00,864.90 C1613.00,865.18 1610.33,865.33 1606.00,864.60 C1601.67,863.87 1595.67,862.68 1590.00,860.50 C1584.33,858.32 1577.33,854.67 1572.00,851.50 C1566.67,848.33 1560.33,843.17 1558.00,841.50 C1555.67,839.83 1558.00,841.50 1558.00,841.50" stroke="#000" stroke-width="2.4" fill="none" stroke-linecap="butt"/>
<polygon points="1546.20,831.60 1566.91,841.14 1563.05,845.74 1559.20,850.34" fill="#000"/>
<path d="M1144.90,780.90 C1139.67,784.07 1121.82,795.75 1113.50,799.90 C1105.18,804.05 1100.45,804.58 1095.00,805.80 C1089.55,807.02 1085.30,807.42 1080.80,807.20 C1076.30,806.98 1071.55,806.12 1068.00,804.50 C1064.45,802.88 1061.92,800.75 1059.50,797.50 C1057.08,794.25 1054.65,789.92 1053.50,785.00 C1052.35,780.08 1052.25,773.93 1052.60,768.00 C1052.95,762.07 1053.62,755.57 1055.60,749.40 C1057.58,743.23 1062.62,734.51 1064.50,731.00 C1066.38,727.49 1066.51,728.80 1066.91,728.37" stroke="#000" stroke-width="2.4" fill="none" stroke-linecap="butt"/>
<polygon points="1077.30,717.00 1066.88,737.29 1062.46,733.24 1058.03,729.19" fill="#000"/>
<path d="M971.90,598.00 C971.00,593.33 969.32,578.33 966.50,570.00 C963.68,561.67 959.92,553.92 955.00,548.00 C950.08,542.08 943.33,537.58 937.00,534.50 C930.67,531.42 920.84,530.35 917.00,529.50 C913.16,528.65 914.49,529.40 913.99,529.39" stroke="#000" stroke-width="2.4" fill="none" stroke-linecap="butt"/>
<polygon points="898.60,528.80 920.81,523.64 920.58,529.64 920.36,535.63" fill="#000"/>
<text x="856.40" y="461.50" font-size="33.3" font-weight="bold" xml:space="preserve">1. ZnO<tspan dy="11.32" font-size="20.31">x</tspan><tspan dy="-11.32">/PtZn</tspan></text>
<text x="1183.40" y="297.10" font-size="33.3" font-weight="bold" xml:space="preserve">2. Ph-CH<tspan dy="11.32" font-size="20.31">2</tspan><tspan dy="-11.32">O</tspan><tspan fill="#be1e2d">H</tspan>*+OH*</text>
<text x="1607.30" y="386.80" font-size="33.3" font-weight="bold" xml:space="preserve">3. Ph-CH<tspan dy="11.32" font-size="20.31">2</tspan><tspan dy="-11.32">O</tspan><tspan fill="#be1e2d">H</tspan>* + 2OH*</text>
<text x="1721.60" y="519.10" font-size="33.3" font-weight="bold" xml:space="preserve">4. Ph-C<tspan fill="#be1e2d">H</tspan><tspan dy="11.32" font-size="20.31">2</tspan><tspan dy="-11.32">O* + OH*</tspan></text>
<text x="1653.70" y="781.00" font-size="33.3" font-weight="bold" xml:space="preserve">5. Ph-C<tspan fill="#be1e2d">H</tspan>O*</text>
<text x="1350.90" y="931.60" font-size="33.3" font-weight="bold" xml:space="preserve">6. Ph-C<tspan fill="#be1e2d">H</tspan>O* + OH*</text>
<text x="1004.00" y="908.30" font-size="33.3" font-weight="bold" xml:space="preserve">7. Ph-C(OH)<tspan fill="#be1e2d">H</tspan>O*</text>
<text x="779.00" y="677.10" font-size="33.3" font-weight="bold" xml:space="preserve">8. Ph-COOH*</text>
<text x="989.80" y="313.90" font-size="25" xml:space="preserve">Ph-CH<tspan dy="8.50" font-size="15.25">2</tspan><tspan dy="-8.50">OH</tspan></text>
<text x="1197.60" y="395.40" font-size="25" xml:space="preserve">e<tspan dy="-8.50" font-size="15.25">-</tspan></text>
<text x="1119.90" y="434.60" font-size="25" xml:space="preserve">OH<tspan dy="-8.50" font-size="15.25">-</tspan></text>
<text x="784.30" y="552.30" font-size="25" xml:space="preserve">Ph-COOH</text>
<text x="1437.50" y="404.00" font-size="25" xml:space="preserve">OH<tspan dy="-8.50" font-size="15.25">-</tspan></text>
<text x="1537.90" y="417.90" font-size="25" xml:space="preserve">e<tspan dy="-8.50" font-size="15.25">-</tspan></text>
<text x="1603.50" y="479.00" font-size="25" xml:space="preserve"><tspan fill="#be1e2d">H</tspan>-OH</text>
<text x="1653.70" y="677.70" font-size="25" xml:space="preserve"><tspan fill="#be1e2d">H</tspan>-OH</text>
<text x="1567.50" y="755.50" font-size="25" xml:space="preserve">OH<tspan dy="-8.50" font-size="15.25">-</tspan></text>
<text x="1530.00" y="821.90" font-size="25" xml:space="preserve">e<tspan dy="-8.50" font-size="15.25">-</tspan></text>
<text x="1053.30" y="710.20" font-size="25" xml:space="preserve"><tspan fill="#be1e2d">H</tspan>-OH + e<tspan dy="-8.50" font-size="15.25">-</tspan></text>
<text x="1171.40" y="755.80" font-size="25" xml:space="preserve">OH<tspan dy="-8.50" font-size="15.25">-</tspan></text>
<text x="1079.50" y="1225.90" font-size="33.3" xml:space="preserve">Pt</text>
<text x="1284.30" y="1225.90" font-size="33.3" xml:space="preserve">Zn</text>
<text x="1461.80" y="1226.50" font-size="33.3" xml:space="preserve">O</text>
<text x="1632.40" y="1226.50" font-size="33.3" xml:space="preserve">C</text>
<text x="1786.80" y="1228.80" font-size="33.3" xml:space="preserve">H</text>
<text x="68.50" y="1379.80" font-size="37" font-weight="bold" xml:space="preserve">D</text>
<line x1="328.90" y1="1438.30" x2="443.90" y2="1510.45" stroke="#1f4e9c" stroke-width="2.3" stroke-dasharray="10.5 6"/>
<line x1="569.10" y1="1510.45" x2="684.10" y2="1575.38" stroke="#1f4e9c" stroke-width="2.3" stroke-dasharray="10.5 6"/>
<line x1="809.30" y1="1575.38" x2="924.30" y2="1647.53" stroke="#1f4e9c" stroke-width="2.3" stroke-dasharray="10.5 6"/>
<line x1="1049.50" y1="1647.53" x2="1164.50" y2="1659.08" stroke="#1f4e9c" stroke-width="2.3" stroke-dasharray="10.5 6"/>
<line x1="1289.70" y1="1659.08" x2="1404.70" y2="1712.47" stroke="#1f4e9c" stroke-width="2.3" stroke-dasharray="10.5 6"/>
<line x1="1529.90" y1="1712.47" x2="1644.90" y2="1627.33" stroke="#1f4e9c" stroke-width="2.3" stroke-dasharray="10.5 6"/>
<line x1="1770.10" y1="1627.33" x2="1885.10" y2="1868.31" stroke="#1f4e9c" stroke-width="2.3" stroke-dasharray="10.5 6"/>
<line x1="328.90" y1="1438.30" x2="443.90" y2="1586.93" stroke="#c1272d" stroke-width="2.3" stroke-dasharray="10.5 6"/>
<line x1="569.10" y1="1586.93" x2="684.10" y2="1677.84" stroke="#c1272d" stroke-width="2.3" stroke-dasharray="10.5 6"/>
<line x1="809.30" y1="1677.84" x2="924.30" y2="1693.71" stroke="#c1272d" stroke-width="2.3" stroke-dasharray="10.5 6"/>
<line x1="1049.50" y1="1693.71" x2="1164.50" y2="1738.44" stroke="#c1272d" stroke-width="2.3" stroke-dasharray="10.5 6"/>
<line x1="1289.70" y1="1738.44" x2="1404.70" y2="1787.51" stroke="#c1272d" stroke-width="2.3" stroke-dasharray="10.5 6"/>
<line x1="1529.90" y1="1787.51" x2="1644.90" y2="1716.80" stroke="#c1272d" stroke-width="2.3" stroke-dasharray="10.5 6"/>
<line x1="1770.10" y1="1716.80" x2="1885.10" y2="1918.82" stroke="#c1272d" stroke-width="2.3" stroke-dasharray="10.5 6"/>
<line x1="203.70" y1="1438.30" x2="328.90" y2="1438.30" stroke="#1f4e9c" stroke-width="6.0"/>
<line x1="443.90" y1="1510.45" x2="569.10" y2="1510.45" stroke="#1f4e9c" stroke-width="6.0"/>
<line x1="684.10" y1="1575.38" x2="809.30" y2="1575.38" stroke="#1f4e9c" stroke-width="6.0"/>
<line x1="924.30" y1="1647.53" x2="1049.50" y2="1647.53" stroke="#1f4e9c" stroke-width="6.0"/>
<line x1="1164.50" y1="1659.08" x2="1289.70" y2="1659.08" stroke="#1f4e9c" stroke-width="6.0"/>
<line x1="1404.70" y1="1712.47" x2="1529.90" y2="1712.47" stroke="#1f4e9c" stroke-width="6.0"/>
<line x1="1644.90" y1="1627.33" x2="1770.10" y2="1627.33" stroke="#1f4e9c" stroke-width="6.0"/>
<line x1="1885.10" y1="1868.31" x2="2010.30" y2="1868.31" stroke="#1f4e9c" stroke-width="6.0"/>
<line x1="203.70" y1="1438.30" x2="328.90" y2="1438.30" stroke="#c1272d" stroke-width="6.0"/>
<line x1="443.90" y1="1586.93" x2="569.10" y2="1586.93" stroke="#c1272d" stroke-width="6.0"/>
<line x1="684.10" y1="1677.84" x2="809.30" y2="1677.84" stroke="#c1272d" stroke-width="6.0"/>
<line x1="924.30" y1="1693.71" x2="1049.50" y2="1693.71" stroke="#c1272d" stroke-width="6.0"/>
<line x1="1164.50" y1="1738.44" x2="1289.70" y2="1738.44" stroke="#c1272d" stroke-width="6.0"/>
<line x1="1404.70" y1="1787.51" x2="1529.90" y2="1787.51" stroke="#c1272d" stroke-width="6.0"/>
<line x1="1644.90" y1="1716.80" x2="1770.10" y2="1716.80" stroke="#c1272d" stroke-width="6.0"/>
<line x1="1885.10" y1="1918.82" x2="2010.30" y2="1918.82" stroke="#c1272d" stroke-width="6.0"/>
<text x="262.30" y="1425.20" font-size="33.3" text-anchor="middle" fill="#1f4e9c" xml:space="preserve">(0.00)</text>
<text x="512.70" y="1494.10" font-size="33.3" text-anchor="middle" fill="#1f4e9c" xml:space="preserve">(-0.50)</text>
<text x="748.20" y="1559.20" font-size="33.3" text-anchor="middle" fill="#1f4e9c" xml:space="preserve">(-0.95)</text>
<text x="983.00" y="1633.90" font-size="33.3" text-anchor="middle" fill="#1f4e9c" xml:space="preserve">(-1.45)</text>
<text x="1224.20" y="1643.00" font-size="33.3" text-anchor="middle" fill="#1f4e9c" xml:space="preserve">(-1.53)</text>
<text x="1462.50" y="1695.00" font-size="33.3" text-anchor="middle" fill="#1f4e9c" xml:space="preserve">(-1.90)</text>
<text x="1709.20" y="1614.10" font-size="33.3" text-anchor="middle" fill="#1f4e9c" xml:space="preserve">(-1.31)</text>
<text x="1944.10" y="1850.70" font-size="33.3" text-anchor="middle" fill="#1f4e9c" xml:space="preserve">(-2.98)</text>
<text x="262.30" y="1472.60" font-size="33.3" text-anchor="middle" fill="#c1272d" xml:space="preserve">(0.00)</text>
<text x="510.20" y="1622.60" font-size="33.3" text-anchor="middle" fill="#c1272d" xml:space="preserve">(-1.03)</text>
<text x="756.10" y="1713.70" font-size="33.3" text-anchor="middle" fill="#c1272d" xml:space="preserve">(-1.66)</text>
<text x="989.20" y="1732.90" font-size="33.3" text-anchor="middle" fill="#c1272d" xml:space="preserve">(-1.77)</text>
<text x="1232.20" y="1779.90" font-size="33.3" text-anchor="middle" fill="#c1272d" xml:space="preserve">(-2.08)</text>
<text x="1466.70" y="1825.20" font-size="33.3" text-anchor="middle" fill="#c1272d" xml:space="preserve">(-2.42)</text>
<text x="1709.20" y="1756.10" font-size="33.3" text-anchor="middle" fill="#c1272d" xml:space="preserve">(-1.93)</text>
<text x="1956.60" y="1955.40" font-size="33.3" text-anchor="middle" fill="#c1272d" xml:space="preserve">(-3.33)</text>
<text x="251.80" y="1516.80" font-size="33.3" text-anchor="middle" xml:space="preserve">1</text>
<text x="498.00" y="1568.80" font-size="33.3" text-anchor="middle" xml:space="preserve">2</text>
<text x="744.80" y="1659.40" font-size="33.3" text-anchor="middle" xml:space="preserve">3</text>
<text x="985.30" y="1683.70" font-size="33.3" text-anchor="middle" xml:space="preserve">4</text>
<text x="1219.10" y="1722.20" font-size="33.3" text-anchor="middle" xml:space="preserve">5</text>
<text x="1468.10" y="1772.60" font-size="33.3" text-anchor="middle" xml:space="preserve">6</text>
<text x="1707.50" y="1692.20" font-size="33.3" text-anchor="middle" xml:space="preserve">7</text>
<text x="1941.80" y="1907.20" font-size="33.3" text-anchor="middle" xml:space="preserve">8</text>
<text x="1579.10" y="1503.70" font-size="33.3" text-anchor="middle" fill="#1f4e9c" xml:space="preserve">PDS</text>
<text x="1510.30" y="1549.60" font-size="33.3" text-anchor="middle" fill="#1f4e9c" xml:space="preserve">0.59</text>
<line x1="1572.30" y1="1517.90" x2="1572.30" y2="1612.00" stroke="#1f4e9c" stroke-width="2"/>
<polygon points="1572.3,1640.1 1564.8,1606 1579.8,1606" fill="#1f4e9c"/>
<text x="1637.10" y="1893.10" font-size="33.3" text-anchor="middle" fill="#c1272d" xml:space="preserve">0.49</text>
<text x="1581.90" y="1940.10" font-size="33.3" text-anchor="middle" fill="#c1272d" xml:space="preserve">PDS</text>
<line x1="1580.20" y1="1902.70" x2="1580.20" y2="1816.00" stroke="#c1272d" stroke-width="2"/>
<polygon points="1580.2,1787.3 1572.7,1821.4 1587.7,1821.4" fill="#c1272d"/>
<line x1="200.90" y1="1888.60" x2="325.40" y2="1888.60" stroke="#c1272d" stroke-width="6.0"/>
<text x="342.40" y="1902.70" font-size="33.3" fill="#c1272d" xml:space="preserve">ZnO<tspan dy="11.32" font-size="20.31">x</tspan><tspan dy="-11.32">/PtZn</tspan></text>
<line x1="200.90" y1="1950.30" x2="325.40" y2="1950.30" stroke="#1f4e9c" stroke-width="6.0"/>
<text x="342.40" y="1963.80" font-size="33.3" fill="#1f4e9c" xml:space="preserve">PtZn</text>
<rect x="146.60" y="1366.80" width="1921.40" height="634.40" fill="none" stroke="#000" stroke-width="2"/>
<line x1="131.90" y1="1438.30" x2="146.60" y2="1438.30" stroke="#000" stroke-width="2"/>
<text x="116.30" y="1450.30" font-size="33.3" text-anchor="end" xml:space="preserve">0</text>
<line x1="131.90" y1="1582.60" x2="146.60" y2="1582.60" stroke="#000" stroke-width="2"/>
<text x="116.30" y="1594.60" font-size="33.3" text-anchor="end" xml:space="preserve">-1</text>
<line x1="131.90" y1="1726.90" x2="146.60" y2="1726.90" stroke="#000" stroke-width="2"/>
<text x="116.30" y="1738.90" font-size="33.3" text-anchor="end" xml:space="preserve">-2</text>
<line x1="131.90" y1="1871.20" x2="146.60" y2="1871.20" stroke="#000" stroke-width="2"/>
<text x="116.30" y="1883.20" font-size="33.3" text-anchor="end" xml:space="preserve">-3</text>
<text x="58.30" y="1689.90" font-size="33.3" text-anchor="middle" transform="rotate(-90 58.30 1689.90)" xml:space="preserve">Gibbs free energy (eV)</text>
<text x="404.40" y="2032.00" font-size="33.3" text-anchor="end" transform="rotate(-22.5 404.40 2032.00)" xml:space="preserve">* + Ph-CH<tspan dy="11.32" font-size="20.31">2</tspan><tspan dy="-11.32">OH + 4OH</tspan><tspan dy="-11.32" font-size="20.31">-</tspan></text>
<text x="667.70" y="2027.50" font-size="33.3" text-anchor="end" transform="rotate(-22.5 667.70 2027.50)" xml:space="preserve">Ph-CH<tspan dy="11.32" font-size="20.31">2</tspan><tspan dy="-11.32">OH* + OH* + 3OH</tspan><tspan dy="-11.32" font-size="20.31">-</tspan></text>
<text x="899.60" y="2026.40" font-size="33.3" text-anchor="end" transform="rotate(-22.5 899.60 2026.40)" xml:space="preserve">Ph-CH<tspan dy="11.32" font-size="20.31">2</tspan><tspan dy="-11.32">OH* + 2OH* + 2OH</tspan><tspan dy="-11.32" font-size="20.31">-</tspan></text>
<text x="1128.10" y="2029.00" font-size="33.3" text-anchor="end" transform="rotate(-22.5 1128.10 2029.00)" xml:space="preserve">Ph-CH<tspan dy="11.32" font-size="20.31">2</tspan><tspan dy="-11.32">O* + OH* + 2OH</tspan><tspan dy="-11.32" font-size="20.31">-</tspan><tspan dy="11.32"> +  H</tspan><tspan dy="11.32" font-size="20.31">2</tspan><tspan dy="-11.32">O</tspan></text>
<text x="1361.10" y="2030.40" font-size="33.3" text-anchor="end" transform="rotate(-22.5 1361.10 2030.40)" xml:space="preserve">Ph-CHO* + 2OH<tspan dy="-11.32" font-size="20.31">-</tspan><tspan dy="11.32"> + 2H</tspan><tspan dy="11.32" font-size="20.31">2</tspan><tspan dy="-11.32">O</tspan></text>
<text x="1596.10" y="2030.40" font-size="33.3" text-anchor="end" transform="rotate(-22.5 1596.10 2030.40)" xml:space="preserve">Ph-CHO* + OH* + OH<tspan dy="-11.32" font-size="20.31">-</tspan><tspan dy="11.32"> + 2H</tspan><tspan dy="11.32" font-size="20.31">2</tspan><tspan dy="-11.32">O</tspan></text>
<text x="1833.60" y="2030.40" font-size="33.3" text-anchor="end" transform="rotate(-22.5 1833.60 2030.40)" xml:space="preserve">Ph-C(OH)HO* + OH<tspan dy="-11.32" font-size="20.31">-</tspan><tspan dy="11.32"> + 2H</tspan><tspan dy="11.32" font-size="20.31">2</tspan><tspan dy="-11.32">O</tspan></text>
<text x="2031.60" y="2030.40" font-size="33.3" text-anchor="end" transform="rotate(-22.5 2031.60 2030.40)" xml:space="preserve">Ph-COOH* + 3H<tspan dy="11.32" font-size="20.31">2</tspan><tspan dy="-11.32">O</tspan></text>
</svg>
</body></html>
